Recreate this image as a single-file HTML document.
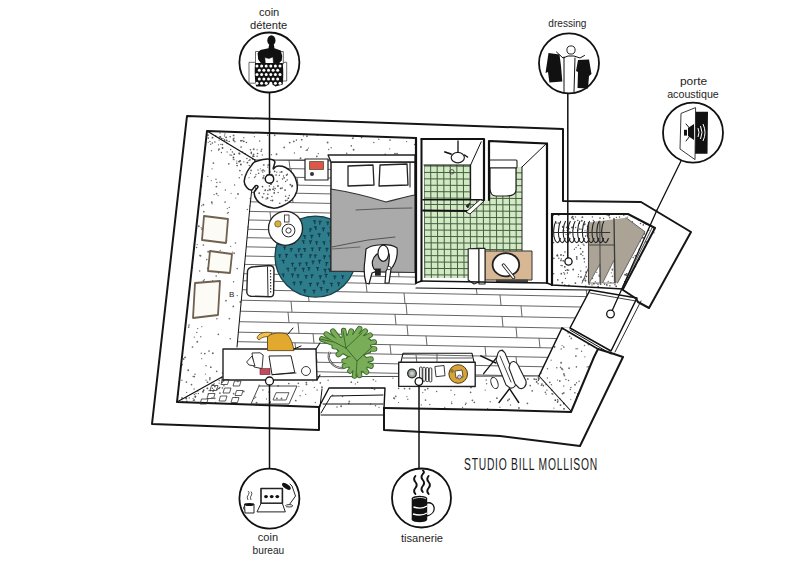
<!DOCTYPE html>
<html><head><meta charset="utf-8"><style>html,body{margin:0;padding:0;background:#fff;width:800px;height:565px;overflow:hidden}svg{display:block}</style></head>
<body><svg width="800" height="565" viewBox="0 0 800 565"><clipPath id="pk"><polygon points="255,160 416,160 416,288 590,290 570,328 562,328 539,376 222,377 237,347 250,206"/></clipPath><g clip-path="url(#pk)" stroke="#555" stroke-width="0.9" fill="none"><line x1="230" y1="159.0" x2="600" y2="166.4"/><line x1="289" y1="160.2" x2="290" y2="168.6"/><line x1="419" y1="162.8" x2="420" y2="171.2"/><line x1="549" y1="165.4" x2="550" y2="173.8"/><line x1="230" y1="167.4" x2="600" y2="174.8"/><line x1="291" y1="168.6" x2="292" y2="177.2"/><line x1="414" y1="171.1" x2="415" y2="179.7"/><line x1="537" y1="173.5" x2="538" y2="182.1"/><line x1="230" y1="176.0" x2="600" y2="183.4"/><line x1="297" y1="177.3" x2="298" y2="185.1"/><line x1="404" y1="179.5" x2="405" y2="187.3"/><line x1="511" y1="181.6" x2="512" y2="189.4"/><line x1="230" y1="183.8" x2="600" y2="191.2"/><line x1="255" y1="184.3" x2="256" y2="192.4"/><line x1="382" y1="186.8" x2="383" y2="194.9"/><line x1="509" y1="189.4" x2="510" y2="197.5"/><line x1="230" y1="191.9" x2="600" y2="199.3"/><line x1="292" y1="193.1" x2="293" y2="202.6"/><line x1="398" y1="195.2" x2="399" y2="204.7"/><line x1="504" y1="197.4" x2="505" y2="206.9"/><line x1="230" y1="201.4" x2="600" y2="208.8"/><line x1="244" y1="201.7" x2="245" y2="211.3"/><line x1="367" y1="204.1" x2="368" y2="213.7"/><line x1="490" y1="206.6" x2="491" y2="216.2"/><line x1="230" y1="211.0" x2="600" y2="218.4"/><line x1="270" y1="211.8" x2="271" y2="220.4"/><line x1="374" y1="213.9" x2="375" y2="222.5"/><line x1="478" y1="215.9" x2="479" y2="224.5"/><line x1="582" y1="218.0" x2="583" y2="226.6"/><line x1="230" y1="219.6" x2="600" y2="227.0"/><line x1="243" y1="219.8" x2="244" y2="229.1"/><line x1="372" y1="222.4" x2="373" y2="231.7"/><line x1="501" y1="225.0" x2="502" y2="234.3"/><line x1="230" y1="228.9" x2="600" y2="236.3"/><line x1="320" y1="230.7" x2="321" y2="239.1"/><line x1="417" y1="232.6" x2="418" y2="241.0"/><line x1="514" y1="234.6" x2="515" y2="243.0"/><line x1="230" y1="237.3" x2="600" y2="244.7"/><line x1="308" y1="238.8" x2="309" y2="248.0"/><line x1="428" y1="241.2" x2="429" y2="250.4"/><line x1="548" y1="243.6" x2="549" y2="252.8"/><line x1="230" y1="246.5" x2="600" y2="253.9"/><line x1="289" y1="247.7" x2="290" y2="256.9"/><line x1="394" y1="249.8" x2="395" y2="259.0"/><line x1="499" y1="251.9" x2="500" y2="261.1"/><line x1="230" y1="255.7" x2="600" y2="263.1"/><line x1="311" y1="257.3" x2="312" y2="265.7"/><line x1="406" y1="259.2" x2="407" y2="267.6"/><line x1="501" y1="261.1" x2="502" y2="269.5"/><line x1="596" y1="263.0" x2="597" y2="271.4"/><line x1="230" y1="264.1" x2="600" y2="271.5"/><line x1="299" y1="265.5" x2="300" y2="274.8"/><line x1="398" y1="267.4" x2="399" y2="276.7"/><line x1="497" y1="269.4" x2="498" y2="278.7"/><line x1="596" y1="271.4" x2="597" y2="280.7"/><line x1="230" y1="273.4" x2="600" y2="280.8"/><line x1="239" y1="273.6" x2="240" y2="280.7"/><line x1="336" y1="275.5" x2="337" y2="282.6"/><line x1="433" y1="277.4" x2="434" y2="284.5"/><line x1="530" y1="279.4" x2="531" y2="286.5"/><line x1="230" y1="280.5" x2="600" y2="287.9"/><line x1="256" y1="281.0" x2="257" y2="290.0"/><line x1="366" y1="283.2" x2="367" y2="292.2"/><line x1="476" y1="285.4" x2="477" y2="294.4"/><line x1="586" y1="287.6" x2="587" y2="296.6"/><line x1="230" y1="289.5" x2="600" y2="296.9"/><line x1="308" y1="291.0" x2="309" y2="301.5"/><line x1="404" y1="293.0" x2="405" y2="303.5"/><line x1="500" y1="294.9" x2="501" y2="305.4"/><line x1="596" y1="296.8" x2="597" y2="307.3"/><line x1="230" y1="300.0" x2="600" y2="307.4"/><line x1="291" y1="301.2" x2="292" y2="312.2"/><line x1="406" y1="303.5" x2="407" y2="314.5"/><line x1="521" y1="305.8" x2="522" y2="316.8"/><line x1="230" y1="311.0" x2="600" y2="318.4"/><line x1="288" y1="312.1" x2="289" y2="322.6"/><line x1="395" y1="314.3" x2="396" y2="324.8"/><line x1="502" y1="316.4" x2="503" y2="326.9"/><line x1="230" y1="321.5" x2="600" y2="328.9"/><line x1="298" y1="322.8" x2="299" y2="333.3"/><line x1="407" y1="325.0" x2="408" y2="335.5"/><line x1="516" y1="327.2" x2="517" y2="337.7"/><line x1="230" y1="332.0" x2="600" y2="339.4"/><line x1="313" y1="333.6" x2="314" y2="343.1"/><line x1="426" y1="335.9" x2="427" y2="345.4"/><line x1="539" y1="338.2" x2="540" y2="347.7"/><line x1="230" y1="341.5" x2="600" y2="348.9"/><line x1="295" y1="342.8" x2="296" y2="352.3"/><line x1="390" y1="344.7" x2="391" y2="354.2"/><line x1="485" y1="346.6" x2="486" y2="356.1"/><line x1="580" y1="348.5" x2="581" y2="358.0"/><line x1="230" y1="351.0" x2="600" y2="358.4"/><line x1="316" y1="352.7" x2="317" y2="362.2"/><line x1="416" y1="354.7" x2="417" y2="364.2"/><line x1="516" y1="356.7" x2="517" y2="366.2"/><line x1="230" y1="360.5" x2="600" y2="367.9"/><line x1="290" y1="361.7" x2="291" y2="371.2"/><line x1="402" y1="363.9" x2="403" y2="373.4"/><line x1="514" y1="366.2" x2="515" y2="375.7"/><line x1="230" y1="370.0" x2="600" y2="377.4"/><line x1="284" y1="371.1" x2="285" y2="381.1"/><line x1="414" y1="373.7" x2="415" y2="383.7"/><line x1="544" y1="376.3" x2="545" y2="386.3"/></g><g fill="#6a6a6a"><circle cx="274.7" cy="135.4" r="0.83"/><circle cx="253.7" cy="149.2" r="0.93"/><circle cx="327.6" cy="142.5" r="0.94"/><circle cx="267.5" cy="135.2" r="0.64"/><circle cx="271.5" cy="154.7" r="0.66"/><circle cx="328.6" cy="149.5" r="0.73"/><circle cx="219.5" cy="137.0" r="0.84"/><circle cx="296.4" cy="140.1" r="0.80"/><circle cx="301.7" cy="139.7" r="0.88"/><circle cx="353.1" cy="138.1" r="0.80"/><circle cx="316.8" cy="156.4" r="0.86"/><circle cx="267.2" cy="159.4" r="0.64"/><circle cx="294.4" cy="153.0" r="0.65"/><circle cx="346.7" cy="153.2" r="0.80"/><circle cx="390.0" cy="140.1" r="0.84"/><circle cx="331.2" cy="147.8" r="0.76"/><circle cx="306.1" cy="150.3" r="0.62"/><circle cx="353.6" cy="149.8" r="0.95"/><circle cx="378.8" cy="139.3" r="0.74"/><circle cx="303.5" cy="135.9" r="0.64"/><circle cx="234.0" cy="138.2" r="0.74"/><circle cx="300.9" cy="146.9" r="0.91"/><circle cx="378.2" cy="156.1" r="0.70"/><circle cx="293.8" cy="141.4" r="0.91"/><circle cx="243.8" cy="137.7" r="0.68"/><circle cx="308.4" cy="148.1" r="0.69"/><circle cx="284.2" cy="147.4" r="0.93"/><circle cx="351.3" cy="145.9" r="0.82"/><circle cx="395.0" cy="153.6" r="0.91"/><circle cx="373.8" cy="142.4" r="0.74"/><circle cx="220.0" cy="133.0" r="0.67"/><circle cx="240.9" cy="140.9" r="0.62"/><circle cx="228.2" cy="141.5" r="0.61"/><circle cx="389.7" cy="148.8" r="0.65"/><circle cx="259.7" cy="141.1" r="0.73"/><circle cx="414.6" cy="144.5" r="0.77"/><circle cx="224.9" cy="134.0" r="0.72"/><circle cx="262.3" cy="155.0" r="0.66"/><circle cx="317.4" cy="135.3" r="0.79"/><circle cx="352.5" cy="138.6" r="0.73"/><circle cx="318.3" cy="153.6" r="0.72"/><circle cx="253.6" cy="154.5" r="0.94"/><circle cx="385.2" cy="154.4" r="0.89"/><circle cx="361.6" cy="137.6" r="0.78"/><circle cx="261.2" cy="151.1" r="0.93"/><circle cx="300.5" cy="158.2" r="0.95"/><circle cx="406.6" cy="141.6" r="0.68"/><circle cx="254.4" cy="136.7" r="0.67"/><circle cx="337.4" cy="157.1" r="0.89"/><circle cx="307.2" cy="149.9" r="0.88"/><circle cx="397.1" cy="153.7" r="0.86"/><circle cx="306.9" cy="136.2" r="0.88"/><circle cx="276.5" cy="154.2" r="0.94"/><circle cx="289.7" cy="142.6" r="0.93"/><circle cx="233.6" cy="135.4" r="0.92"/></g><g fill="#6a6a6a"><circle cx="239.9" cy="170.6" r="0.89"/><circle cx="204.3" cy="279.7" r="0.65"/><circle cx="178.1" cy="394.1" r="0.83"/><circle cx="210.8" cy="367.2" r="0.89"/><circle cx="199.9" cy="196.2" r="0.81"/><circle cx="197.2" cy="244.6" r="0.65"/><circle cx="248.0" cy="226.9" r="0.76"/><circle cx="209.8" cy="379.7" r="0.78"/><circle cx="218.5" cy="272.9" r="0.61"/><circle cx="211.3" cy="180.6" r="0.60"/><circle cx="239.3" cy="177.7" r="0.77"/><circle cx="233.6" cy="281.8" r="0.71"/><circle cx="217.4" cy="281.5" r="0.87"/><circle cx="237.2" cy="268.6" r="0.80"/><circle cx="211.6" cy="297.0" r="0.78"/><circle cx="216.9" cy="318.7" r="0.76"/><circle cx="218.6" cy="260.5" r="0.93"/><circle cx="250.5" cy="201.3" r="0.80"/><circle cx="211.5" cy="150.7" r="0.68"/><circle cx="189.0" cy="325.1" r="0.83"/><circle cx="188.2" cy="370.2" r="0.94"/><circle cx="194.1" cy="389.1" r="0.74"/><circle cx="241.9" cy="174.8" r="0.75"/><circle cx="217.2" cy="222.9" r="0.67"/><circle cx="201.8" cy="326.7" r="0.61"/><circle cx="220.2" cy="250.4" r="0.61"/><circle cx="202.9" cy="300.1" r="0.78"/><circle cx="182.0" cy="398.0" r="0.88"/><circle cx="252.8" cy="159.4" r="0.69"/><circle cx="209.9" cy="378.0" r="0.89"/><circle cx="231.6" cy="155.2" r="0.62"/><circle cx="230.7" cy="246.3" r="0.63"/><circle cx="239.5" cy="153.7" r="0.90"/><circle cx="182.2" cy="364.8" r="0.76"/><circle cx="203.5" cy="280.9" r="0.92"/><circle cx="218.1" cy="195.6" r="0.64"/><circle cx="200.8" cy="336.8" r="0.70"/><circle cx="216.0" cy="179.2" r="0.72"/><circle cx="220.0" cy="182.3" r="0.77"/><circle cx="249.9" cy="159.8" r="0.89"/><circle cx="210.7" cy="265.1" r="0.89"/><circle cx="207.7" cy="268.3" r="0.84"/><circle cx="226.6" cy="240.7" r="0.72"/><circle cx="183.6" cy="359.0" r="0.90"/><circle cx="229.3" cy="207.4" r="0.68"/><circle cx="199.9" cy="255.5" r="0.66"/><circle cx="211.8" cy="202.3" r="0.94"/><circle cx="201.1" cy="227.6" r="0.60"/><circle cx="206.8" cy="259.6" r="0.78"/><circle cx="192.7" cy="267.8" r="0.60"/><circle cx="208.2" cy="142.3" r="0.61"/><circle cx="200.7" cy="194.1" r="0.80"/><circle cx="218.3" cy="334.4" r="0.83"/><circle cx="207.4" cy="219.4" r="0.94"/><circle cx="188.7" cy="327.2" r="0.83"/><circle cx="234.2" cy="351.1" r="0.65"/><circle cx="217.9" cy="267.7" r="0.89"/><circle cx="222.6" cy="373.0" r="0.84"/><circle cx="231.1" cy="193.3" r="0.61"/><circle cx="185.2" cy="357.5" r="0.80"/><circle cx="226.0" cy="300.7" r="0.84"/><circle cx="216.2" cy="276.0" r="0.83"/><circle cx="197.7" cy="328.6" r="0.67"/><circle cx="215.5" cy="234.7" r="0.77"/><circle cx="230.3" cy="338.8" r="0.82"/><circle cx="227.1" cy="152.0" r="0.65"/><circle cx="196.8" cy="332.4" r="0.71"/><circle cx="229.4" cy="318.6" r="0.84"/><circle cx="199.7" cy="271.0" r="0.76"/><circle cx="213.4" cy="163.1" r="0.91"/><circle cx="212.8" cy="353.2" r="0.94"/><circle cx="212.1" cy="203.8" r="0.67"/><circle cx="250.8" cy="188.1" r="0.80"/><circle cx="251.3" cy="166.9" r="0.89"/><circle cx="216.7" cy="371.3" r="0.85"/><circle cx="195.0" cy="374.3" r="0.77"/><circle cx="215.4" cy="253.2" r="0.71"/><circle cx="201.7" cy="358.7" r="0.60"/><circle cx="186.4" cy="382.1" r="0.85"/><circle cx="247.3" cy="209.5" r="0.73"/><circle cx="223.0" cy="228.8" r="0.75"/><circle cx="184.9" cy="357.2" r="0.70"/><circle cx="250.0" cy="198.6" r="0.69"/><circle cx="216.9" cy="182.4" r="0.73"/><circle cx="240.3" cy="302.0" r="0.92"/><circle cx="234.1" cy="253.2" r="0.86"/><circle cx="227.3" cy="208.6" r="0.62"/><circle cx="249.3" cy="165.5" r="0.77"/><circle cx="203.8" cy="211.7" r="0.86"/><circle cx="228.2" cy="212.5" r="0.80"/><circle cx="207.8" cy="176.3" r="0.66"/><circle cx="193.2" cy="376.5" r="0.77"/><circle cx="194.2" cy="376.6" r="0.95"/><circle cx="212.1" cy="168.8" r="0.67"/><circle cx="197.2" cy="285.4" r="0.91"/><circle cx="235.5" cy="242.9" r="0.74"/><circle cx="217.9" cy="233.1" r="0.72"/><circle cx="252.5" cy="165.1" r="0.78"/><circle cx="226.1" cy="364.8" r="0.68"/><circle cx="208.2" cy="251.8" r="0.93"/><circle cx="213.9" cy="290.1" r="0.60"/><circle cx="207.5" cy="382.2" r="0.89"/><circle cx="233.3" cy="306.4" r="0.87"/><circle cx="212.7" cy="280.5" r="0.61"/><circle cx="238.0" cy="194.0" r="0.92"/><circle cx="227.3" cy="213.3" r="0.64"/><circle cx="196.6" cy="303.4" r="0.84"/><circle cx="217.9" cy="289.0" r="0.74"/><circle cx="194.4" cy="293.9" r="0.60"/><circle cx="200.5" cy="255.8" r="0.94"/><circle cx="214.1" cy="194.6" r="0.69"/><circle cx="215.9" cy="313.8" r="0.75"/><circle cx="197.1" cy="311.9" r="0.92"/><circle cx="203.4" cy="245.0" r="0.84"/><circle cx="192.5" cy="347.0" r="0.86"/><circle cx="216.4" cy="186.6" r="0.94"/><circle cx="201.3" cy="353.2" r="0.68"/><circle cx="194.3" cy="337.1" r="0.70"/><circle cx="209.5" cy="311.3" r="0.93"/><circle cx="191.5" cy="384.6" r="0.86"/><circle cx="206.5" cy="232.3" r="0.72"/><circle cx="198.8" cy="226.2" r="0.93"/><circle cx="186.6" cy="392.3" r="0.67"/><circle cx="204.8" cy="353.6" r="0.89"/><circle cx="210.7" cy="144.3" r="0.77"/><circle cx="206.1" cy="380.2" r="0.67"/><circle cx="205.4" cy="374.1" r="0.61"/><circle cx="209.0" cy="351.0" r="0.87"/><circle cx="181.9" cy="380.3" r="0.69"/><circle cx="203.4" cy="204.8" r="0.94"/><circle cx="225.1" cy="202.0" r="0.85"/><circle cx="201.7" cy="205.7" r="0.60"/><circle cx="196.6" cy="247.5" r="0.77"/><circle cx="249.4" cy="180.6" r="0.88"/><circle cx="237.3" cy="295.6" r="0.71"/><circle cx="201.9" cy="229.1" r="0.87"/><circle cx="235.7" cy="198.0" r="0.62"/><circle cx="232.4" cy="252.1" r="0.68"/><circle cx="209.5" cy="299.1" r="0.84"/><circle cx="228.8" cy="163.8" r="0.89"/><circle cx="199.9" cy="284.6" r="0.73"/><circle cx="234.6" cy="185.0" r="0.69"/><circle cx="202.5" cy="238.3" r="0.95"/><circle cx="216.6" cy="193.7" r="0.88"/><circle cx="206.0" cy="365.7" r="0.76"/><circle cx="197.3" cy="341.8" r="0.93"/><circle cx="225.4" cy="190.0" r="0.73"/><circle cx="196.9" cy="293.4" r="0.83"/><circle cx="202.5" cy="314.8" r="0.66"/><circle cx="201.4" cy="186.1" r="0.88"/></g><g fill="#6a6a6a"><circle cx="392.9" cy="378.2" r="0.64"/><circle cx="332.7" cy="395.3" r="0.82"/><circle cx="451.0" cy="390.3" r="0.70"/><circle cx="300.1" cy="395.8" r="0.73"/><circle cx="341.1" cy="406.2" r="0.95"/><circle cx="320.3" cy="382.9" r="0.85"/><circle cx="532.2" cy="390.8" r="0.89"/><circle cx="337.0" cy="406.9" r="0.76"/><circle cx="394.3" cy="398.4" r="0.92"/><circle cx="212.1" cy="397.8" r="0.73"/><circle cx="375.8" cy="381.1" r="0.70"/><circle cx="219.9" cy="393.2" r="0.88"/><circle cx="421.4" cy="404.9" r="0.66"/><circle cx="486.6" cy="383.8" r="0.74"/><circle cx="510.5" cy="405.0" r="0.66"/><circle cx="262.9" cy="390.0" r="0.78"/><circle cx="328.1" cy="380.3" r="0.69"/><circle cx="462.6" cy="407.4" r="0.61"/><circle cx="398.6" cy="402.5" r="0.61"/><circle cx="507.3" cy="380.1" r="0.81"/><circle cx="393.7" cy="397.9" r="0.71"/><circle cx="342.5" cy="396.4" r="0.75"/><circle cx="436.6" cy="391.6" r="0.75"/><circle cx="186.2" cy="397.7" r="0.77"/><circle cx="269.7" cy="402.7" r="0.87"/><circle cx="357.6" cy="382.3" r="0.77"/><circle cx="219.2" cy="380.5" r="0.75"/><circle cx="213.1" cy="391.5" r="0.78"/><circle cx="193.1" cy="398.3" r="0.63"/><circle cx="466.0" cy="403.2" r="0.78"/><circle cx="198.4" cy="393.6" r="0.73"/><circle cx="465.4" cy="404.5" r="0.67"/><circle cx="553.9" cy="408.1" r="0.66"/><circle cx="487.6" cy="408.6" r="0.62"/><circle cx="315.3" cy="402.5" r="0.66"/><circle cx="530.2" cy="385.6" r="0.89"/><circle cx="233.6" cy="393.6" r="0.92"/><circle cx="259.1" cy="385.2" r="0.78"/><circle cx="302.7" cy="377.3" r="0.66"/><circle cx="444.8" cy="407.3" r="0.66"/><circle cx="486.2" cy="380.0" r="0.79"/><circle cx="427.7" cy="388.6" r="0.91"/><circle cx="395.7" cy="396.3" r="0.91"/><circle cx="425.1" cy="389.8" r="0.88"/><circle cx="404.5" cy="388.6" r="0.87"/><circle cx="351.3" cy="382.2" r="0.86"/><circle cx="276.9" cy="398.4" r="0.94"/><circle cx="407.8" cy="399.2" r="0.71"/><circle cx="235.8" cy="397.6" r="0.75"/><circle cx="379.0" cy="407.3" r="0.65"/><circle cx="266.5" cy="398.9" r="0.61"/><circle cx="218.9" cy="388.5" r="0.68"/><circle cx="406.9" cy="396.6" r="0.67"/><circle cx="422.8" cy="392.6" r="0.65"/><circle cx="546.0" cy="384.5" r="0.65"/><circle cx="214.7" cy="398.3" r="0.90"/><circle cx="485.2" cy="390.1" r="0.69"/><circle cx="398.6" cy="388.3" r="0.83"/><circle cx="466.0" cy="384.7" r="0.92"/><circle cx="194.3" cy="394.6" r="0.74"/><circle cx="270.6" cy="378.0" r="0.87"/><circle cx="255.6" cy="397.3" r="0.78"/><circle cx="429.8" cy="404.5" r="0.66"/><circle cx="298.9" cy="386.5" r="0.62"/><circle cx="527.4" cy="403.4" r="0.85"/><circle cx="470.6" cy="392.3" r="0.86"/><circle cx="355.3" cy="383.9" r="0.64"/><circle cx="268.5" cy="377.4" r="0.72"/><circle cx="472.4" cy="400.3" r="0.90"/><circle cx="457.4" cy="385.3" r="0.79"/><circle cx="348.8" cy="403.6" r="0.78"/><circle cx="281.5" cy="398.5" r="0.94"/><circle cx="270.0" cy="402.0" r="0.93"/><circle cx="471.0" cy="387.4" r="0.91"/><circle cx="306.5" cy="384.4" r="0.92"/><circle cx="425.5" cy="400.2" r="0.83"/><circle cx="507.8" cy="400.4" r="0.90"/><circle cx="349.3" cy="401.4" r="0.80"/><circle cx="298.3" cy="383.4" r="0.82"/><circle cx="312.9" cy="381.0" r="0.61"/><circle cx="193.4" cy="400.2" r="0.82"/><circle cx="451.6" cy="401.8" r="0.62"/><circle cx="409.6" cy="388.7" r="0.89"/><circle cx="499.9" cy="407.2" r="0.62"/><circle cx="518.9" cy="408.0" r="0.93"/><circle cx="219.2" cy="383.2" r="0.64"/><circle cx="496.9" cy="398.2" r="0.89"/><circle cx="425.8" cy="386.1" r="0.63"/><circle cx="215.6" cy="402.5" r="0.67"/><circle cx="302.7" cy="390.8" r="0.61"/><circle cx="278.1" cy="385.9" r="0.85"/><circle cx="322.0" cy="387.2" r="0.94"/><circle cx="375.5" cy="405.8" r="0.82"/><circle cx="349.0" cy="403.1" r="0.72"/><circle cx="454.6" cy="394.8" r="0.68"/><circle cx="516.7" cy="379.2" r="0.89"/><circle cx="256.6" cy="402.7" r="0.94"/><circle cx="370.6" cy="403.9" r="0.66"/><circle cx="371.9" cy="388.2" r="0.89"/><circle cx="288.8" cy="383.5" r="0.84"/><circle cx="373.3" cy="379.8" r="0.82"/><circle cx="451.7" cy="403.5" r="0.82"/><circle cx="317.1" cy="390.0" r="0.74"/><circle cx="527.8" cy="379.0" r="0.91"/><circle cx="374.5" cy="389.3" r="0.91"/><circle cx="269.0" cy="392.1" r="0.79"/><circle cx="474.3" cy="402.4" r="0.83"/><circle cx="314.3" cy="387.4" r="0.65"/><circle cx="509.2" cy="399.2" r="0.86"/><circle cx="243.8" cy="391.4" r="0.87"/><circle cx="405.2" cy="380.4" r="0.76"/><circle cx="525.7" cy="384.3" r="0.67"/><circle cx="295.8" cy="400.6" r="0.90"/><circle cx="237.9" cy="381.5" r="0.69"/><circle cx="305.7" cy="394.3" r="0.66"/><circle cx="306.3" cy="382.6" r="0.94"/><circle cx="464.1" cy="379.6" r="0.94"/><circle cx="217.0" cy="389.4" r="0.94"/><circle cx="490.2" cy="401.7" r="0.75"/><circle cx="254.3" cy="398.3" r="0.64"/></g><g fill="#6a6a6a"><circle cx="551.2" cy="360.2" r="0.61"/><circle cx="562.5" cy="393.7" r="0.84"/><circle cx="568.5" cy="380.5" r="0.76"/><circle cx="547.4" cy="378.1" r="0.74"/><circle cx="564.4" cy="375.6" r="0.86"/><circle cx="563.8" cy="347.0" r="0.85"/><circle cx="579.1" cy="381.2" r="0.76"/><circle cx="557.5" cy="380.1" r="0.63"/><circle cx="563.8" cy="392.9" r="0.85"/><circle cx="576.1" cy="348.8" r="0.75"/><circle cx="565.9" cy="379.6" r="0.74"/><circle cx="549.8" cy="382.3" r="0.87"/><circle cx="561.9" cy="368.7" r="0.94"/><circle cx="541.3" cy="373.1" r="0.66"/><circle cx="569.6" cy="336.4" r="0.80"/><circle cx="570.9" cy="387.5" r="0.78"/><circle cx="576.7" cy="396.8" r="0.78"/><circle cx="551.4" cy="384.8" r="0.74"/><circle cx="562.6" cy="329.1" r="0.75"/><circle cx="563.8" cy="386.0" r="0.72"/><circle cx="554.6" cy="346.6" r="0.86"/><circle cx="562.1" cy="345.6" r="0.65"/><circle cx="576.4" cy="366.9" r="0.80"/><circle cx="559.8" cy="381.0" r="0.89"/><circle cx="587.2" cy="366.9" r="0.70"/><circle cx="571.3" cy="338.4" r="0.89"/><circle cx="559.9" cy="398.6" r="0.69"/><circle cx="561.2" cy="349.0" r="0.75"/><circle cx="581.6" cy="351.3" r="0.69"/><circle cx="556.8" cy="367.8" r="0.75"/><circle cx="576.6" cy="382.7" r="0.73"/><circle cx="577.7" cy="348.8" r="0.64"/><circle cx="584.8" cy="356.8" r="0.65"/><circle cx="574.9" cy="392.8" r="0.83"/><circle cx="588.5" cy="344.4" r="0.84"/><circle cx="570.3" cy="389.6" r="0.75"/><circle cx="554.6" cy="347.4" r="0.65"/><circle cx="568.1" cy="332.9" r="0.76"/><circle cx="547.5" cy="368.8" r="0.77"/><circle cx="570.8" cy="399.6" r="0.60"/><circle cx="588.6" cy="366.8" r="0.80"/><circle cx="561.1" cy="362.8" r="0.94"/><circle cx="575.0" cy="384.7" r="0.93"/><circle cx="569.1" cy="368.2" r="0.91"/><circle cx="575.9" cy="356.1" r="0.90"/><circle cx="560.6" cy="367.4" r="0.78"/><circle cx="584.5" cy="345.5" r="0.75"/><circle cx="563.9" cy="374.0" r="0.89"/><circle cx="562.8" cy="369.8" r="0.70"/><circle cx="577.6" cy="393.7" r="0.72"/></g><g fill="#555"><circle cx="585.6" cy="236.1" r="0.81"/><circle cx="619.3" cy="272.0" r="0.61"/><circle cx="609.8" cy="217.7" r="0.71"/><circle cx="552.7" cy="228.1" r="0.92"/><circle cx="616.5" cy="262.7" r="0.88"/><circle cx="617.4" cy="260.4" r="0.84"/><circle cx="615.2" cy="264.4" r="0.67"/><circle cx="622.7" cy="247.9" r="0.87"/><circle cx="562.7" cy="227.4" r="0.61"/><circle cx="621.5" cy="241.3" r="0.89"/><circle cx="635.4" cy="255.6" r="0.69"/><circle cx="584.0" cy="245.2" r="0.71"/><circle cx="597.7" cy="261.5" r="0.93"/><circle cx="557.8" cy="256.0" r="0.61"/><circle cx="564.6" cy="274.0" r="0.80"/><circle cx="553.5" cy="242.6" r="0.81"/><circle cx="602.4" cy="244.5" r="0.64"/><circle cx="620.3" cy="229.7" r="0.65"/><circle cx="553.6" cy="214.4" r="0.84"/><circle cx="564.9" cy="285.5" r="0.63"/><circle cx="644.2" cy="223.5" r="0.61"/><circle cx="628.3" cy="231.9" r="0.86"/><circle cx="571.9" cy="217.7" r="0.87"/><circle cx="627.6" cy="277.3" r="0.86"/><circle cx="560.9" cy="260.5" r="0.85"/><circle cx="600.8" cy="283.0" r="0.69"/><circle cx="553.2" cy="215.1" r="0.83"/><circle cx="638.6" cy="219.9" r="0.71"/><circle cx="629.3" cy="226.3" r="0.90"/><circle cx="603.6" cy="218.4" r="0.73"/><circle cx="612.9" cy="246.5" r="0.84"/><circle cx="567.4" cy="273.0" r="0.73"/><circle cx="620.4" cy="260.6" r="0.75"/><circle cx="592.9" cy="272.2" r="0.93"/><circle cx="635.2" cy="255.9" r="0.70"/><circle cx="626.5" cy="275.2" r="0.72"/><circle cx="616.2" cy="286.3" r="0.89"/><circle cx="615.7" cy="236.8" r="0.75"/><circle cx="646.1" cy="241.9" r="0.84"/><circle cx="615.8" cy="280.3" r="0.88"/><circle cx="582.0" cy="214.1" r="0.69"/><circle cx="596.8" cy="257.4" r="0.89"/><circle cx="581.0" cy="277.0" r="0.88"/><circle cx="624.6" cy="281.6" r="0.72"/><circle cx="561.0" cy="255.0" r="0.88"/><circle cx="573.2" cy="269.5" r="0.93"/><circle cx="576.8" cy="258.9" r="0.84"/><circle cx="601.3" cy="229.3" r="0.69"/><circle cx="631.6" cy="272.6" r="0.76"/><circle cx="561.3" cy="273.7" r="0.87"/><circle cx="576.7" cy="256.9" r="0.91"/><circle cx="602.5" cy="257.6" r="0.67"/><circle cx="572.4" cy="227.4" r="0.85"/><circle cx="590.5" cy="255.8" r="0.74"/><circle cx="606.8" cy="225.0" r="0.62"/><circle cx="563.2" cy="260.8" r="0.88"/><circle cx="568.6" cy="258.2" r="0.72"/><circle cx="607.1" cy="215.5" r="0.61"/><circle cx="603.5" cy="256.0" r="0.69"/><circle cx="634.6" cy="245.5" r="0.93"/><circle cx="654.1" cy="232.8" r="0.61"/><circle cx="573.3" cy="227.4" r="0.63"/><circle cx="557.4" cy="255.2" r="0.90"/><circle cx="600.6" cy="284.1" r="0.92"/><circle cx="558.8" cy="258.3" r="0.74"/><circle cx="564.7" cy="285.0" r="0.69"/><circle cx="611.8" cy="261.4" r="0.93"/><circle cx="623.0" cy="243.1" r="0.76"/><circle cx="568.9" cy="285.5" r="0.95"/><circle cx="575.5" cy="216.9" r="0.69"/><circle cx="589.3" cy="280.8" r="0.92"/><circle cx="635.4" cy="266.5" r="0.83"/><circle cx="567.3" cy="269.9" r="0.93"/><circle cx="623.8" cy="236.1" r="0.81"/><circle cx="632.3" cy="221.8" r="0.71"/><circle cx="579.2" cy="223.2" r="0.77"/><circle cx="569.9" cy="231.6" r="0.65"/><circle cx="623.8" cy="214.9" r="0.85"/><circle cx="572.7" cy="216.7" r="0.92"/><circle cx="575.4" cy="283.1" r="0.90"/><circle cx="646.2" cy="224.3" r="0.76"/><circle cx="562.3" cy="282.7" r="0.89"/><circle cx="618.6" cy="247.5" r="0.72"/><circle cx="639.2" cy="249.3" r="0.82"/><circle cx="567.1" cy="230.4" r="0.62"/><circle cx="627.7" cy="254.9" r="0.65"/><circle cx="644.3" cy="233.7" r="0.74"/><circle cx="568.5" cy="234.1" r="0.89"/><circle cx="587.5" cy="226.4" r="0.77"/><circle cx="585.7" cy="280.8" r="0.64"/><circle cx="574.4" cy="249.3" r="0.70"/><circle cx="579.3" cy="228.9" r="0.73"/><circle cx="582.7" cy="280.3" r="0.62"/><circle cx="629.0" cy="235.7" r="0.94"/><circle cx="553.7" cy="273.7" r="0.72"/><circle cx="566.9" cy="214.1" r="0.89"/><circle cx="607.8" cy="227.8" r="0.75"/><circle cx="648.7" cy="230.2" r="0.80"/><circle cx="566.6" cy="227.3" r="0.87"/><circle cx="627.4" cy="228.6" r="0.63"/><circle cx="561.3" cy="259.0" r="0.77"/><circle cx="581.0" cy="229.2" r="0.81"/><circle cx="627.0" cy="274.1" r="0.80"/><circle cx="573.4" cy="218.9" r="0.86"/><circle cx="595.3" cy="267.4" r="0.62"/><circle cx="637.9" cy="238.8" r="0.89"/><circle cx="643.6" cy="250.5" r="0.61"/><circle cx="644.4" cy="233.7" r="0.67"/><circle cx="640.2" cy="241.2" r="0.66"/><circle cx="591.3" cy="258.0" r="0.60"/><circle cx="607.1" cy="247.0" r="0.78"/><circle cx="564.8" cy="266.9" r="0.89"/><circle cx="643.7" cy="237.8" r="0.85"/><circle cx="592.4" cy="269.6" r="0.62"/><circle cx="604.4" cy="252.0" r="0.79"/><circle cx="609.0" cy="215.5" r="0.94"/><circle cx="575.7" cy="227.5" r="0.64"/><circle cx="578.5" cy="274.5" r="0.61"/><circle cx="562.2" cy="265.7" r="0.67"/><circle cx="553.9" cy="258.4" r="0.80"/><circle cx="607.4" cy="266.0" r="0.64"/><circle cx="556.8" cy="223.1" r="0.77"/><circle cx="605.1" cy="234.7" r="0.64"/><circle cx="595.0" cy="224.1" r="0.81"/><circle cx="643.3" cy="224.9" r="0.80"/><circle cx="631.1" cy="226.2" r="0.89"/><circle cx="596.6" cy="276.1" r="0.78"/><circle cx="593.9" cy="283.7" r="0.87"/><circle cx="587.9" cy="231.8" r="0.72"/><circle cx="598.2" cy="286.6" r="0.88"/><circle cx="606.8" cy="284.9" r="0.93"/><circle cx="578.4" cy="245.2" r="0.82"/><circle cx="590.6" cy="253.3" r="0.62"/><circle cx="597.9" cy="251.4" r="0.61"/><circle cx="619.1" cy="273.9" r="0.91"/><circle cx="620.0" cy="233.7" r="0.84"/><circle cx="581.0" cy="254.1" r="0.92"/><circle cx="617.9" cy="232.5" r="0.78"/><circle cx="598.0" cy="284.4" r="0.70"/><circle cx="584.4" cy="261.9" r="0.64"/><circle cx="615.0" cy="284.8" r="0.78"/><circle cx="580.5" cy="248.5" r="0.79"/><circle cx="567.7" cy="223.2" r="0.65"/><circle cx="583.1" cy="244.1" r="0.70"/><circle cx="577.8" cy="220.5" r="0.79"/><circle cx="612.4" cy="262.1" r="0.67"/><circle cx="627.3" cy="248.1" r="0.79"/><circle cx="617.0" cy="248.7" r="0.71"/><circle cx="577.7" cy="230.4" r="0.78"/><circle cx="592.6" cy="257.3" r="0.60"/><circle cx="589.4" cy="277.8" r="0.68"/><circle cx="611.0" cy="250.4" r="0.70"/><circle cx="633.8" cy="225.7" r="0.62"/><circle cx="644.4" cy="246.6" r="0.62"/><circle cx="593.1" cy="246.6" r="0.86"/><circle cx="563.6" cy="230.7" r="0.94"/><circle cx="630.3" cy="225.4" r="0.72"/><circle cx="589.4" cy="264.0" r="0.82"/><circle cx="606.9" cy="268.7" r="0.86"/><circle cx="632.5" cy="249.2" r="0.87"/><circle cx="565.5" cy="278.4" r="0.60"/><circle cx="633.2" cy="257.4" r="0.77"/><circle cx="596.3" cy="272.0" r="0.91"/><circle cx="616.4" cy="242.1" r="0.76"/><circle cx="600.5" cy="267.5" r="0.70"/><circle cx="593.4" cy="255.1" r="0.73"/><circle cx="586.1" cy="272.2" r="0.90"/><circle cx="605.0" cy="246.9" r="0.66"/><circle cx="584.2" cy="224.7" r="0.80"/><circle cx="613.6" cy="220.5" r="0.92"/><circle cx="586.3" cy="276.4" r="0.89"/><circle cx="653.6" cy="229.1" r="0.75"/><circle cx="557.0" cy="255.8" r="0.77"/><circle cx="606.8" cy="252.3" r="0.84"/><circle cx="593.3" cy="240.5" r="0.81"/><circle cx="589.2" cy="284.1" r="0.84"/><circle cx="607.7" cy="221.3" r="0.73"/><circle cx="594.5" cy="255.5" r="0.80"/><circle cx="603.6" cy="246.6" r="0.82"/><circle cx="608.2" cy="274.4" r="0.66"/><circle cx="585.7" cy="286.4" r="0.89"/><circle cx="606.3" cy="222.2" r="0.91"/><circle cx="625.1" cy="274.7" r="0.95"/><circle cx="646.1" cy="245.1" r="0.65"/><circle cx="582.7" cy="251.9" r="0.78"/><circle cx="571.9" cy="227.5" r="0.82"/><circle cx="615.9" cy="240.1" r="0.95"/><circle cx="619.5" cy="217.1" r="0.74"/><circle cx="635.5" cy="236.7" r="0.84"/><circle cx="552.4" cy="236.5" r="0.89"/><circle cx="614.1" cy="263.4" r="0.67"/><circle cx="604.8" cy="254.9" r="0.69"/><circle cx="620.6" cy="253.3" r="0.95"/><circle cx="612.9" cy="244.4" r="0.64"/><circle cx="568.6" cy="270.2" r="0.64"/><circle cx="562.6" cy="226.6" r="0.78"/><circle cx="639.3" cy="259.4" r="0.88"/><circle cx="558.6" cy="214.9" r="0.87"/><circle cx="586.2" cy="266.9" r="0.72"/><circle cx="570.0" cy="233.7" r="0.63"/><circle cx="589.0" cy="247.3" r="0.73"/><circle cx="557.8" cy="279.9" r="0.80"/><circle cx="617.7" cy="232.5" r="0.62"/><circle cx="585.4" cy="280.5" r="0.89"/><circle cx="584.2" cy="258.6" r="0.94"/><circle cx="604.5" cy="284.3" r="0.69"/><circle cx="593.3" cy="267.2" r="0.68"/><circle cx="584.8" cy="278.8" r="0.77"/><circle cx="636.0" cy="232.0" r="0.66"/><circle cx="590.0" cy="227.8" r="0.94"/><circle cx="582.8" cy="255.6" r="0.64"/><circle cx="608.6" cy="242.5" r="0.74"/><circle cx="558.9" cy="223.1" r="0.89"/><circle cx="589.2" cy="232.1" r="0.67"/><circle cx="582.1" cy="231.6" r="0.61"/><circle cx="622.4" cy="239.3" r="0.65"/><circle cx="626.8" cy="220.9" r="0.69"/><circle cx="640.5" cy="223.5" r="0.76"/><circle cx="568.9" cy="240.1" r="0.85"/><circle cx="592.0" cy="284.9" r="0.67"/><circle cx="576.1" cy="247.5" r="0.65"/><circle cx="626.9" cy="233.3" r="0.91"/><circle cx="614.3" cy="241.2" r="0.69"/><circle cx="616.5" cy="229.7" r="0.91"/><circle cx="565.0" cy="252.0" r="0.79"/><circle cx="580.7" cy="271.1" r="0.73"/><circle cx="621.7" cy="256.0" r="0.71"/><circle cx="593.3" cy="220.4" r="0.66"/><circle cx="642.2" cy="237.8" r="0.83"/><circle cx="563.5" cy="255.6" r="0.73"/><circle cx="605.0" cy="236.0" r="0.62"/><circle cx="585.0" cy="230.8" r="0.64"/><circle cx="628.0" cy="234.9" r="0.74"/><circle cx="566.0" cy="234.5" r="0.61"/><circle cx="624.0" cy="263.1" r="0.72"/><circle cx="595.7" cy="262.8" r="0.84"/><circle cx="578.3" cy="276.7" r="0.72"/><circle cx="618.7" cy="227.4" r="0.64"/><circle cx="627.5" cy="217.0" r="0.61"/><circle cx="569.2" cy="228.7" r="0.71"/><circle cx="592.4" cy="216.9" r="0.71"/><circle cx="619.7" cy="227.3" r="0.89"/><circle cx="612.4" cy="267.0" r="0.69"/><circle cx="598.1" cy="264.6" r="0.72"/><circle cx="552.1" cy="275.7" r="0.87"/><circle cx="582.4" cy="217.2" r="0.90"/><circle cx="616.4" cy="217.5" r="0.69"/><circle cx="563.8" cy="272.6" r="0.67"/><circle cx="561.1" cy="265.4" r="0.74"/><circle cx="581.8" cy="220.7" r="0.93"/><circle cx="596.9" cy="282.8" r="0.84"/><circle cx="630.3" cy="275.4" r="0.82"/><circle cx="600.0" cy="218.0" r="0.84"/><circle cx="597.4" cy="251.9" r="0.92"/><circle cx="565.5" cy="270.4" r="0.62"/><circle cx="626.5" cy="273.6" r="0.69"/><circle cx="609.9" cy="285.7" r="0.82"/><circle cx="609.7" cy="232.5" r="0.62"/><circle cx="589.9" cy="244.5" r="0.67"/><circle cx="584.9" cy="224.1" r="0.85"/></g><g fill="#555"><circle cx="218.6" cy="150.1" r="0.76"/><circle cx="233.3" cy="159.1" r="0.66"/><circle cx="239.0" cy="153.2" r="0.76"/><circle cx="243.8" cy="161.8" r="0.64"/><circle cx="220.9" cy="144.3" r="0.67"/><circle cx="209.9" cy="141.4" r="0.67"/><circle cx="212.4" cy="143.0" r="0.76"/><circle cx="237.1" cy="165.6" r="0.83"/><circle cx="219.1" cy="140.1" r="0.65"/><circle cx="246.9" cy="158.5" r="0.71"/><circle cx="222.4" cy="144.6" r="0.79"/><circle cx="234.2" cy="154.2" r="0.89"/><circle cx="240.9" cy="164.5" r="0.93"/><circle cx="230.7" cy="149.5" r="0.66"/><circle cx="221.4" cy="152.5" r="0.63"/><circle cx="247.4" cy="162.6" r="0.88"/><circle cx="227.2" cy="143.5" r="0.75"/><circle cx="239.0" cy="161.6" r="0.92"/><circle cx="214.9" cy="141.9" r="0.76"/><circle cx="222.5" cy="148.0" r="0.94"/><circle cx="236.8" cy="161.0" r="0.62"/><circle cx="239.5" cy="153.5" r="0.70"/><circle cx="230.1" cy="155.0" r="0.70"/><circle cx="208.3" cy="138.0" r="0.84"/><circle cx="232.4" cy="151.9" r="0.74"/><circle cx="212.5" cy="137.7" r="0.91"/><circle cx="219.1" cy="149.1" r="0.79"/><circle cx="233.4" cy="157.4" r="0.86"/><circle cx="234.0" cy="159.7" r="0.65"/><circle cx="218.4" cy="144.8" r="0.61"/><circle cx="236.8" cy="163.3" r="0.80"/><circle cx="239.7" cy="161.5" r="0.64"/><circle cx="208.0" cy="135.1" r="0.88"/><circle cx="240.1" cy="160.9" r="0.93"/><circle cx="248.9" cy="160.6" r="0.61"/></g><g fill="#555"><circle cx="246.4" cy="142.4" r="0.77"/><circle cx="226.1" cy="137.3" r="0.91"/><circle cx="229.5" cy="141.3" r="0.60"/><circle cx="240.6" cy="140.7" r="0.61"/><circle cx="257.6" cy="153.5" r="0.82"/><circle cx="243.8" cy="141.5" r="0.70"/><circle cx="253.1" cy="156.3" r="0.93"/><circle cx="251.3" cy="152.4" r="0.78"/><circle cx="243.8" cy="141.2" r="0.79"/><circle cx="226.6" cy="140.4" r="0.95"/><circle cx="234.9" cy="141.7" r="0.69"/><circle cx="224.5" cy="135.9" r="0.62"/><circle cx="224.5" cy="139.9" r="0.85"/><circle cx="223.0" cy="138.5" r="0.61"/><circle cx="230.2" cy="136.8" r="0.81"/><circle cx="257.1" cy="149.8" r="0.67"/><circle cx="253.9" cy="156.4" r="0.72"/><circle cx="250.5" cy="149.8" r="0.74"/><circle cx="242.6" cy="152.0" r="0.72"/><circle cx="241.1" cy="147.1" r="0.83"/><circle cx="241.9" cy="140.6" r="0.86"/><circle cx="251.3" cy="153.5" r="0.71"/><circle cx="233.3" cy="139.1" r="0.78"/><circle cx="245.0" cy="153.5" r="0.73"/><circle cx="215.7" cy="136.1" r="0.86"/><circle cx="233.7" cy="140.4" r="0.92"/><circle cx="261.8" cy="149.2" r="0.68"/><circle cx="221.6" cy="138.6" r="0.75"/><circle cx="220.4" cy="136.9" r="0.87"/><circle cx="257.1" cy="156.2" r="0.69"/></g><g fill="#555"><circle cx="207.5" cy="388.3" r="0.80"/><circle cx="222.0" cy="382.2" r="0.91"/><circle cx="195.4" cy="396.5" r="0.90"/><circle cx="186.3" cy="398.6" r="0.95"/><circle cx="182.7" cy="401.4" r="0.60"/><circle cx="223.5" cy="380.8" r="0.86"/><circle cx="194.3" cy="400.0" r="0.85"/><circle cx="221.8" cy="380.0" r="0.77"/><circle cx="223.9" cy="385.7" r="0.68"/><circle cx="214.3" cy="383.8" r="0.66"/><circle cx="197.8" cy="390.9" r="0.73"/><circle cx="210.3" cy="390.6" r="0.79"/><circle cx="212.4" cy="385.1" r="0.83"/><circle cx="203.0" cy="391.8" r="0.95"/><circle cx="214.9" cy="386.5" r="0.85"/><circle cx="208.3" cy="393.9" r="0.71"/><circle cx="209.1" cy="390.6" r="0.68"/><circle cx="213.8" cy="390.1" r="0.77"/><circle cx="203.7" cy="390.2" r="0.88"/><circle cx="218.9" cy="388.5" r="0.82"/><circle cx="221.3" cy="378.1" r="0.73"/><circle cx="195.2" cy="397.1" r="0.78"/><circle cx="212.4" cy="388.2" r="0.77"/><circle cx="189.3" cy="397.9" r="0.63"/><circle cx="213.3" cy="384.4" r="0.74"/><circle cx="186.8" cy="401.3" r="0.85"/><circle cx="196.0" cy="393.6" r="0.72"/><circle cx="207.2" cy="388.6" r="0.76"/><circle cx="219.8" cy="387.4" r="0.77"/><circle cx="222.4" cy="388.0" r="0.77"/></g><g fill="#555"><circle cx="557.5" cy="401.9" r="0.74"/><circle cx="539.0" cy="378.7" r="0.89"/><circle cx="534.2" cy="379.1" r="0.86"/><circle cx="557.9" cy="400.9" r="0.77"/><circle cx="541.3" cy="385.2" r="0.71"/><circle cx="552.8" cy="393.9" r="0.75"/><circle cx="538.3" cy="377.8" r="0.79"/><circle cx="545.3" cy="392.2" r="0.77"/><circle cx="551.9" cy="390.3" r="0.80"/><circle cx="543.3" cy="385.6" r="0.88"/><circle cx="557.6" cy="399.6" r="0.70"/><circle cx="538.5" cy="379.5" r="0.63"/><circle cx="542.0" cy="384.1" r="0.80"/><circle cx="536.7" cy="381.9" r="0.93"/><circle cx="536.1" cy="379.3" r="0.91"/><circle cx="552.0" cy="393.7" r="0.73"/><circle cx="538.3" cy="380.4" r="0.68"/><circle cx="546.1" cy="394.1" r="0.70"/><circle cx="555.3" cy="400.2" r="0.89"/><circle cx="546.9" cy="390.2" r="0.63"/><circle cx="538.1" cy="383.7" r="0.72"/><circle cx="557.6" cy="402.1" r="0.65"/><circle cx="564.0" cy="408.8" r="0.92"/><circle cx="560.5" cy="405.1" r="0.88"/><circle cx="563.8" cy="403.5" r="0.90"/></g><line x1="207" y1="131" x2="255" y2="160" stroke="#111" stroke-width="1.2" stroke-linecap="round"/><line x1="177" y1="402" x2="222" y2="377" stroke="#111" stroke-width="1.2" stroke-linecap="round"/><line x1="222" y1="377" x2="539" y2="376" stroke="#333" stroke-width="0.9" stroke-linecap="round"/><line x1="539" y1="376" x2="571" y2="411" stroke="#111" stroke-width="1.1" stroke-linecap="round"/><line x1="539" y1="376" x2="562" y2="328" stroke="#111" stroke-width="1.5" stroke-linecap="round"/><line x1="562" y1="328" x2="598" y2="349" stroke="#111" stroke-width="1.5" stroke-linecap="round"/><line x1="255" y1="160" x2="250" y2="206" stroke="#111" stroke-width="1.0" stroke-linecap="round"/><line x1="250" y1="206" x2="237" y2="347" stroke="#111" stroke-width="1.0" stroke-linecap="round"/><line x1="255" y1="160" x2="416" y2="160" stroke="#333" stroke-width="0.9" stroke-linecap="round"/><polygon points="204,216 228,219 226,243 202,240" fill="#fdfbf5" stroke="#6e6150" stroke-width="1.8" stroke-linejoin="round" /><polygon points="210,251 232,254 230,273 208,271" fill="#fdfbf5" stroke="#6e6150" stroke-width="1.8" stroke-linejoin="round" /><polygon points="195,283 220,281 218,315 193,318" fill="#fdfbf5" stroke="#6e6150" stroke-width="1.8" stroke-linejoin="round" /><text x="229" y="297" style="font-family:&quot;Liberation Sans&quot;,sans-serif;font-size:8px" fill="#222">B</text><circle cx="315.5" cy="256.6" r="40.5" fill="#2e7d8d" stroke="#163f47" stroke-width="1.3"/><g stroke="#163f4a" stroke-width="1.3" stroke-linecap="round" fill="none"><path d="M313.5,220.9 L315.5,220.9 M314.5,220.9 L314.9,223.5"/><path d="M319.1,221.4 L321.1,221.4 M320.1,221.4 L319.7,224.0"/><path d="M326.8,222.1 L328.8,222.1 M327.8,222.1 L327.8,224.7"/><path d="M295.0,228.4 L297.0,228.4 M296.0,228.4 L296.5,231.0"/><path d="M300.8,228.7 L302.8,228.7 M301.8,228.7 L301.7,231.3"/><path d="M309.6,228.9 L311.6,228.9 M310.6,228.9 L310.1,231.5"/><path d="M314.4,227.0 L316.4,227.0 M315.4,227.0 L316.0,229.6"/><path d="M322.5,228.2 L324.5,228.2 M323.5,228.2 L323.3,230.8"/><path d="M329.9,227.5 L331.9,227.5 M330.9,227.5 L330.7,230.1"/><path d="M337.4,228.1 L339.4,228.1 M338.4,228.1 L338.8,230.7"/><path d="M284.3,236.0 L286.3,236.0 M285.3,236.0 L285.8,238.6"/><path d="M290.6,235.2 L292.6,235.2 M291.6,235.2 L291.3,237.8"/><path d="M298.6,234.8 L300.6,234.8 M299.6,234.8 L299.3,237.4"/><path d="M303.5,235.7 L305.5,235.7 M304.5,235.7 L305.1,238.3"/><path d="M310.8,235.5 L312.8,235.5 M311.8,235.5 L311.7,238.1"/><path d="M318.2,234.0 L320.2,234.0 M319.2,234.0 L319.5,236.6"/><path d="M327.5,233.2 L329.5,233.2 M328.5,233.2 L328.7,235.8"/><path d="M332.2,235.3 L334.2,235.3 M333.2,235.3 L333.0,237.9"/><path d="M341.9,236.0 L343.9,236.0 M342.9,236.0 L342.9,238.6"/><path d="M285.3,240.5 L287.3,240.5 M286.3,240.5 L286.2,243.1"/><path d="M294.2,240.4 L296.2,240.4 M295.2,240.4 L294.7,243.0"/><path d="M302.2,240.8 L304.2,240.8 M303.2,240.8 L303.8,243.4"/><path d="M309.5,241.0 L311.5,241.0 M310.5,241.0 L310.4,243.6"/><path d="M315.6,241.8 L317.6,241.8 M316.6,241.8 L316.7,244.4"/><path d="M322.9,241.8 L324.9,241.8 M323.9,241.8 L324.4,244.4"/><path d="M329.9,241.2 L331.9,241.2 M330.9,241.2 L331.2,243.8"/><path d="M336.3,240.8 L338.3,240.8 M337.3,240.8 L337.9,243.4"/><path d="M344.4,241.5 L346.4,241.5 M345.4,241.5 L344.8,244.1"/><path d="M283.6,246.9 L285.6,246.9 M284.6,246.9 L284.7,249.5"/><path d="M290.3,248.7 L292.3,248.7 M291.3,248.7 L291.1,251.3"/><path d="M298.2,248.9 L300.2,248.9 M299.2,248.9 L298.6,251.5"/><path d="M303.5,248.7 L305.5,248.7 M304.5,248.7 L305.0,251.3"/><path d="M311.3,248.1 L313.3,248.1 M312.3,248.1 L312.4,250.7"/><path d="M318.7,247.8 L320.7,247.8 M319.7,247.8 L319.4,250.4"/><path d="M326.0,248.5 L328.0,248.5 M327.0,248.5 L326.8,251.1"/><path d="M333.2,249.0 L335.2,249.0 M334.2,249.0 L333.7,251.6"/><path d="M341.0,248.9 L343.0,248.9 M342.0,248.9 L341.8,251.5"/><path d="M347.2,249.1 L349.2,249.1 M348.2,249.1 L347.9,251.7"/><path d="M278.6,254.8 L280.6,254.8 M279.6,254.8 L279.8,257.4"/><path d="M285.5,254.5 L287.5,254.5 M286.5,254.5 L286.3,257.1"/><path d="M294.9,254.8 L296.9,254.8 M295.9,254.8 L296.3,257.4"/><path d="M300.1,254.5 L302.1,254.5 M301.1,254.5 L301.3,257.1"/><path d="M309.5,254.9 L311.5,254.9 M310.5,254.9 L310.1,257.5"/><path d="M314.4,255.1 L316.4,255.1 M315.4,255.1 L315.0,257.7"/><path d="M323.6,256.0 L325.6,256.0 M324.6,256.0 L324.2,258.6"/><path d="M329.2,255.9 L331.2,255.9 M330.2,255.9 L330.4,258.5"/><path d="M338.0,254.5 L340.0,254.5 M339.0,254.5 L338.6,257.1"/><path d="M343.7,255.9 L345.7,255.9 M344.7,255.9 L344.4,258.5"/><path d="M351.0,254.8 L353.0,254.8 M352.0,254.8 L351.9,257.4"/><path d="M282.2,260.3 L284.2,260.3 M283.2,260.3 L283.7,262.9"/><path d="M291.5,263.3 L293.5,263.3 M292.5,263.3 L292.5,265.9"/><path d="M299.0,263.1 L301.0,263.1 M300.0,263.1 L299.6,265.7"/><path d="M305.5,262.8 L307.5,262.8 M306.5,262.8 L306.7,265.4"/><path d="M312.1,261.2 L314.1,261.2 M313.1,261.2 L312.9,263.8"/><path d="M318.4,260.5 L320.4,260.5 M319.4,260.5 L319.5,263.1"/><path d="M325.8,262.7 L327.8,262.7 M326.8,262.7 L326.2,265.3"/><path d="M334.8,262.4 L336.8,262.4 M335.8,262.4 L336.3,265.0"/><path d="M342.0,263.0 L344.0,263.0 M343.0,263.0 L343.1,265.6"/><path d="M346.5,262.5 L348.5,262.5 M347.5,262.5 L347.1,265.1"/><path d="M286.8,268.3 L288.8,268.3 M287.8,268.3 L288.3,270.9"/><path d="M294.2,268.1 L296.2,268.1 M295.2,268.1 L294.9,270.7"/><path d="M302.2,268.5 L304.2,268.5 M303.2,268.5 L303.5,271.1"/><path d="M307.9,267.7 L309.9,267.7 M308.9,267.7 L308.9,270.3"/><path d="M316.5,267.6 L318.5,267.6 M317.5,267.6 L317.8,270.2"/><path d="M324.0,269.5 L326.0,269.5 M325.0,269.5 L325.4,272.1"/><path d="M328.4,269.0 L330.4,269.0 M329.4,269.0 L329.9,271.6"/><path d="M335.7,267.9 L337.7,267.9 M336.7,267.9 L336.5,270.5"/><path d="M344.4,268.4 L346.4,268.4 M345.4,268.4 L345.3,271.0"/><path d="M282.1,274.1 L284.1,274.1 M283.1,274.1 L283.6,276.7"/><path d="M291.5,274.2 L293.5,274.2 M292.5,274.2 L292.5,276.8"/><path d="M297.0,274.8 L299.0,274.8 M298.0,274.8 L297.9,277.4"/><path d="M305.2,275.7 L307.2,275.7 M306.2,275.7 L306.1,278.3"/><path d="M311.1,274.9 L313.1,274.9 M312.1,274.9 L311.6,277.5"/><path d="M319.4,276.0 L321.4,276.0 M320.4,276.0 L320.2,278.6"/><path d="M325.1,274.4 L327.1,274.4 M326.1,274.4 L326.0,277.0"/><path d="M333.9,276.2 L335.9,276.2 M334.9,276.2 L334.8,278.8"/><path d="M341.7,275.8 L343.7,275.8 M342.7,275.8 L342.6,278.4"/><path d="M293.1,282.3 L295.1,282.3 M294.1,282.3 L294.4,284.9"/><path d="M299.8,282.0 L301.8,282.0 M300.8,282.0 L300.7,284.6"/><path d="M309.4,283.5 L311.4,283.5 M310.4,283.5 L310.3,286.1"/><path d="M316.7,283.1 L318.7,283.1 M317.7,283.1 L317.4,285.7"/><path d="M322.6,281.1 L324.6,281.1 M323.6,281.1 L324.0,283.7"/><path d="M330.4,283.4 L332.4,283.4 M331.4,283.4 L331.7,286.0"/><path d="M337.6,282.9 L339.6,282.9 M338.6,282.9 L338.7,285.5"/><path d="M303.7,290.0 L305.7,290.0 M304.7,290.0 L304.9,292.6"/><path d="M313.0,290.4 L315.0,290.4 M314.0,290.4 L314.1,293.0"/><path d="M320.1,287.6 L322.1,287.6 M321.1,287.6 L321.4,290.2"/><path d="M326.4,289.6 L328.4,289.6 M327.4,289.6 L327.0,292.2"/></g><polygon points="331,162 415,162 415,272 331,271" fill="#fff" stroke="#222" stroke-width="1.5" stroke-linejoin="round" /><path d="M331,189 C350,192 370,197 386,202 C398,199 408,196 415,195 L415,272.5 L331,271 Z" fill="#aaaaaa" stroke="#333" stroke-width="1.2"/><polyline points="332,247 352,243 368,240 395,237" fill="none" stroke="#555" stroke-width="1.0" stroke-linejoin="round" stroke-linecap="round" /><polyline points="332,249 360,247" fill="none" stroke="#555" stroke-width="0.8" stroke-linejoin="round" stroke-linecap="round" /><polyline points="356,210 385,208.5 412,208" fill="none" stroke="#5a5a5a" stroke-width="1.0" stroke-linejoin="round" stroke-linecap="round" /><polygon points="328,155 415,155 415,162 331,162" fill="#fff" stroke="#222" stroke-width="1.3" stroke-linejoin="round" /><polygon points="348,166 373,165 374,185 348,186" fill="#fff" stroke="#222" stroke-width="1.3" stroke-linejoin="round" /><polygon points="380,165 407,164 408,185 379,186" fill="#fff" stroke="#222" stroke-width="1.3" stroke-linejoin="round" /><line x1="410" y1="163" x2="410" y2="187" stroke="#111" stroke-width="1.0" stroke-linecap="round"/><path d="M366,249 C372,244 390,243 397,248 C398,256 395,264 391,269 L389,283 L385,283 L386,271 L388,268 C389,262 390,257 389,254 L377,254 C372,258 371,264 374,269 L377,271 L372,273 L369,284 L366,283 C364,276 364,266 365,260 Z" fill="#fff" stroke="#1a1a1a" stroke-width="1.2" stroke-linejoin="round"/><ellipse cx="383.3" cy="253.2" rx="5.3" ry="8.1" fill="#fff" stroke="#1a1a1a" stroke-width="1.2"/><rect x="375" y="268.5" width="5.8" height="7.2" fill="#222"/><circle cx="389" cy="268" r="1.8" fill="#fff" stroke="#222" stroke-width="0.8"/><polygon points="305,159 328,159 328,180 305,180" fill="#fff" stroke="#222" stroke-width="1.2" stroke-linejoin="round" /><polygon points="309.5,161.5 323.5,161.5 323.5,169.5 309.5,169.5" fill="#de5550" stroke="#552" stroke-width="0.8" stroke-linejoin="round" /><circle cx="312" cy="174" r="2" fill="#333"/><path d="M254.9,161.9 C256.8,161.0 260.2,159.8 263.0,159.4 C265.8,159.0 269.8,159.0 271.8,159.4 C273.7,159.8 274.6,160.3 274.9,161.9 C275.1,163.5 272.9,168.0 273.2,168.8 C273.6,169.5 274.7,166.5 276.8,166.2 C278.8,166.0 282.8,166.2 285.5,167.5 C288.2,168.8 291.1,171.2 293.0,173.8 C294.9,176.2 296.1,179.6 296.8,182.5 C297.4,185.4 297.6,188.3 296.8,191.2 C295.9,194.2 294.2,197.5 291.8,200.0 C289.2,202.5 284.9,204.9 281.8,206.2 C278.6,207.6 276.1,208.3 273.0,208.1 C269.9,207.9 265.7,206.3 263.0,205.0 C260.3,203.7 258.2,202.1 256.8,200.0 C255.3,197.9 254.0,194.7 254.2,192.5 C254.5,190.3 257.8,188.1 258.0,186.9 C258.2,185.8 256.5,185.1 255.5,185.6 C254.5,186.1 253.2,189.7 251.8,190.0 C250.3,190.3 248.0,189.0 246.8,187.5 C245.5,186.0 244.2,183.8 244.2,181.2 C244.2,178.8 245.5,175.2 246.8,172.5 C248.0,169.8 250.4,166.8 251.8,165.0 C253.1,163.2 253.0,162.8 254.9,161.9 Z" fill="#fff" stroke="#1a1a1a" stroke-width="1.5"/><g fill="#555"><circle cx="268.3" cy="175.3" r="0.83"/><circle cx="269.9" cy="172.0" r="0.78"/><circle cx="258.7" cy="173.2" r="0.75"/><circle cx="287.4" cy="174.3" r="0.68"/><circle cx="279.8" cy="203.2" r="0.80"/><circle cx="267.0" cy="175.0" r="0.64"/><circle cx="267.7" cy="198.6" r="0.66"/><circle cx="278.1" cy="192.4" r="0.73"/><circle cx="276.8" cy="172.2" r="0.62"/><circle cx="263.8" cy="193.8" r="0.75"/><circle cx="267.9" cy="190.5" r="0.76"/><circle cx="267.4" cy="197.8" r="0.84"/><circle cx="265.3" cy="190.1" r="0.78"/><circle cx="289.3" cy="195.5" r="0.70"/><circle cx="271.9" cy="196.5" r="0.65"/><circle cx="274.6" cy="171.4" r="0.83"/><circle cx="285.1" cy="190.1" r="0.91"/><circle cx="267.9" cy="194.3" r="0.81"/><circle cx="278.0" cy="186.0" r="0.89"/><circle cx="291.9" cy="186.6" r="0.83"/><circle cx="287.2" cy="180.0" r="0.74"/><circle cx="273.5" cy="175.9" r="0.64"/><circle cx="270.9" cy="200.5" r="0.63"/><circle cx="273.1" cy="189.2" r="0.91"/><circle cx="287.1" cy="200.2" r="0.70"/><circle cx="271.8" cy="182.6" r="0.91"/><circle cx="262.7" cy="178.1" r="0.68"/><circle cx="274.4" cy="190.6" r="0.69"/><circle cx="270.0" cy="189.8" r="0.93"/><circle cx="282.2" cy="188.0" r="0.82"/><circle cx="281.7" cy="171.9" r="0.91"/><circle cx="285.6" cy="200.6" r="0.88"/><circle cx="270.9" cy="184.0" r="0.64"/><circle cx="280.1" cy="172.2" r="0.62"/><circle cx="263.9" cy="175.7" r="0.72"/><circle cx="258.0" cy="170.0" r="0.65"/><circle cx="279.3" cy="175.2" r="0.69"/><circle cx="269.2" cy="182.7" r="0.64"/><circle cx="273.7" cy="186.9" r="0.63"/><circle cx="266.1" cy="199.0" r="0.66"/><circle cx="276.1" cy="175.1" r="0.79"/><circle cx="282.5" cy="179.1" r="0.73"/><circle cx="262.3" cy="197.0" r="0.79"/><circle cx="285.6" cy="181.5" r="0.68"/><circle cx="288.4" cy="198.2" r="0.89"/><circle cx="284.1" cy="177.9" r="0.78"/><circle cx="269.5" cy="171.0" r="0.61"/><circle cx="266.6" cy="179.1" r="0.84"/><circle cx="292.3" cy="185.7" r="0.93"/><circle cx="269.9" cy="177.7" r="0.68"/><circle cx="263.5" cy="177.2" r="0.82"/><circle cx="274.2" cy="192.9" r="0.88"/><circle cx="259.2" cy="193.1" r="0.92"/><circle cx="285.7" cy="196.3" r="0.77"/><circle cx="262.8" cy="197.6" r="0.72"/><circle cx="271.0" cy="184.0" r="0.93"/><circle cx="283.5" cy="176.0" r="0.64"/><circle cx="286.6" cy="175.1" r="0.89"/><circle cx="269.3" cy="189.2" r="0.65"/><circle cx="280.7" cy="188.4" r="0.93"/><circle cx="272.5" cy="200.5" r="0.89"/><circle cx="264.0" cy="178.8" r="0.70"/><circle cx="265.1" cy="190.5" r="0.69"/><circle cx="271.9" cy="174.6" r="0.92"/><circle cx="269.4" cy="186.0" r="0.80"/><circle cx="290.4" cy="184.7" r="0.92"/><circle cx="275.1" cy="188.6" r="0.78"/><circle cx="263.0" cy="170.1" r="0.88"/><circle cx="262.5" cy="186.6" r="0.85"/><circle cx="277.1" cy="181.4" r="0.78"/></g><g fill="#777"><circle cx="250.5" cy="173.2" r="0.69"/><circle cx="254.6" cy="177.4" r="0.78"/><circle cx="262.7" cy="172.1" r="0.78"/><circle cx="264.6" cy="171.0" r="0.79"/><circle cx="268.2" cy="164.7" r="0.64"/><circle cx="269.5" cy="165.1" r="0.85"/><circle cx="263.8" cy="164.9" r="0.91"/><circle cx="268.0" cy="165.2" r="0.75"/><circle cx="260.4" cy="168.8" r="0.67"/><circle cx="255.6" cy="176.4" r="0.61"/><circle cx="261.3" cy="170.8" r="0.61"/><circle cx="256.0" cy="174.5" r="0.78"/><circle cx="249.0" cy="177.6" r="0.69"/><circle cx="251.1" cy="170.4" r="0.92"/><circle cx="267.7" cy="167.2" r="0.65"/></g><line x1="269.5" y1="92" x2="269.5" y2="175" stroke="#111" stroke-width="1.5" stroke-linecap="round"/><circle cx="269.5" cy="179" r="4.2" fill="#fff" stroke="#111" stroke-width="1.4"/><circle cx="285.5" cy="228.3" r="17" fill="#fff" stroke="#222" stroke-width="1.3"/><circle cx="277.9" cy="223.9" r="3.2" fill="#d8b13a" stroke="#554" stroke-width="0.7"/><circle cx="288.5" cy="230.5" r="6.4" fill="none" stroke="#222" stroke-width="1.0"/><circle cx="288.5" cy="230.5" r="2.6" fill="none" stroke="#222" stroke-width="0.9"/><rect x="284.5" y="215" width="4.5" height="7" fill="#fff" stroke="#222" stroke-width="0.8"/><path d="M247.5,271 C248,268 250,267.5 252,267 L269,265.5 C272,265.5 274,267 274,270 L273.6,293.5 C273.5,295.5 272,296.7 270,296.7 L251,296.2 C248.5,296 246.8,294 246.8,292 Z" fill="#fff" stroke="#222" stroke-width="1.4"/><polyline points="267.5,267 268,295.5" fill="none" stroke="#111" stroke-width="0.9" stroke-linejoin="round" stroke-linecap="round" /><path d="M270.5,270 L270.7,294" stroke="#333" stroke-width="1.2" stroke-dasharray="1.5 1.5"/><polygon points="424,165 470,165 470,200 489,200 489,167 522,167 522,278 424,278" fill="#d3e8c5" stroke="none" stroke-width="0" stroke-linejoin="round" /><clipPath id="tl"><polygon points="424,165 470,165 470,200 489,200 489,167 522,167 522,278 424,278"/></clipPath><g clip-path="url(#tl)" stroke="#42603d" stroke-width="1.0"><line x1="424.0" y1="160" x2="424.8" y2="280"/><line x1="430.6" y1="160" x2="431.4" y2="280"/><line x1="437.1" y1="160" x2="437.9" y2="280"/><line x1="443.7" y1="160" x2="444.5" y2="280"/><line x1="450.2" y1="160" x2="451.0" y2="280"/><line x1="456.8" y1="160" x2="457.6" y2="280"/><line x1="463.3" y1="160" x2="464.1" y2="280"/><line x1="469.9" y1="160" x2="470.7" y2="280"/><line x1="476.4" y1="160" x2="477.2" y2="280"/><line x1="483.0" y1="160" x2="483.8" y2="280"/><line x1="489.5" y1="160" x2="490.3" y2="280"/><line x1="496.1" y1="160" x2="496.9" y2="280"/><line x1="502.6" y1="160" x2="503.4" y2="280"/><line x1="509.2" y1="160" x2="510.0" y2="280"/><line x1="515.7" y1="160" x2="516.5" y2="280"/><line x1="522.3" y1="160" x2="523.1" y2="280"/><line x1="420" y1="166.0" x2="525" y2="166.5"/><line x1="420" y1="172.4" x2="525" y2="172.9"/><line x1="420" y1="178.8" x2="525" y2="179.3"/><line x1="420" y1="185.2" x2="525" y2="185.7"/><line x1="420" y1="191.6" x2="525" y2="192.1"/><line x1="420" y1="198.0" x2="525" y2="198.5"/><line x1="420" y1="204.4" x2="525" y2="204.9"/><line x1="420" y1="210.8" x2="525" y2="211.3"/><line x1="420" y1="217.2" x2="525" y2="217.7"/><line x1="420" y1="223.6" x2="525" y2="224.1"/><line x1="420" y1="230.0" x2="525" y2="230.5"/><line x1="420" y1="236.4" x2="525" y2="236.9"/><line x1="420" y1="242.8" x2="525" y2="243.3"/><line x1="420" y1="249.2" x2="525" y2="249.7"/><line x1="420" y1="255.6" x2="525" y2="256.1"/><line x1="420" y1="262.0" x2="525" y2="262.5"/><line x1="420" y1="268.4" x2="525" y2="268.9"/><line x1="420" y1="274.8" x2="525" y2="275.3"/></g><polyline points="424,165 470.6,165 481.2,141.8" fill="none" stroke="#111" stroke-width="1.0" stroke-linejoin="round" stroke-linecap="round" /><line x1="470.6" y1="165" x2="470.6" y2="199.7" stroke="#111" stroke-width="1.1" stroke-linecap="round"/><polyline points="423,199.7 482,199.7" fill="none" stroke="#111" stroke-width="1.6" stroke-linejoin="round" stroke-linecap="round" /><polyline points="423,210.5 469,211" fill="none" stroke="#111" stroke-width="1.8" stroke-linejoin="round" stroke-linecap="round" /><polygon points="466,212 480,199.7 484,201 470,214" fill="#fff" stroke="#222" stroke-width="1.0" stroke-linejoin="round" /><polygon points="466,206 470,203 468,208" fill="#222" stroke="#222" stroke-width="0.8" stroke-linejoin="round" /><polyline points="522,167 547,143" fill="none" stroke="#111" stroke-width="1.0" stroke-linejoin="round" stroke-linecap="round" /><line x1="522" y1="167" x2="522" y2="278" stroke="#111" stroke-width="0.9" stroke-linecap="round"/><ellipse cx="457.8" cy="157.6" rx="6.6" ry="5.2" fill="#fff" stroke="#222" stroke-width="1.2"/><line x1="458" y1="141" x2="458" y2="152" stroke="#111" stroke-width="1.3" stroke-linecap="round"/><line x1="445" y1="152" x2="451" y2="154" stroke="#111" stroke-width="1.8" stroke-linecap="round"/><line x1="464.5" y1="155" x2="467.5" y2="157" stroke="#111" stroke-width="1.5" stroke-linecap="round"/><circle cx="451.8" cy="171.8" r="2.2" fill="none" stroke="#444" stroke-width="0.9"/><rect x="489" y="160" width="28" height="8" rx="1" fill="#fff" stroke="#222" stroke-width="1.1"/><path d="M490,168 L516,168 L516,190 C516,195 512,196 506,196 L496,196 C491,196 490,192 490,188 Z" fill="#fff" stroke="#222" stroke-width="1.2"/><polygon points="485,251 532,251 532,280 485,280" fill="#d8b894" stroke="#333" stroke-width="1.0" stroke-linejoin="round" /><ellipse cx="505.9" cy="264.7" rx="13.3" ry="11.6" fill="#fff" stroke="#222" stroke-width="1.8"/><path d="M503.5,265 L513.5,277.5" stroke="#222" stroke-width="3.4" stroke-linecap="round"/><path d="M503.5,265 L513.5,277.5" stroke="#fff" stroke-width="1.6" stroke-linecap="round"/><rect x="496" y="279.5" width="32" height="3" fill="#444"/><polygon points="468.2,248.8 479,248.4 479,282 474,284 468.2,280" fill="#fff" stroke="#222" stroke-width="1.1" stroke-linejoin="round" /><polygon points="479,248.4 485,248.4 485,284 479,284" fill="#fff" stroke="#222" stroke-width="1.1" stroke-linejoin="round" /><polyline points="416,138 416,283" fill="none" stroke="#111" stroke-width="2.2" stroke-linejoin="round" stroke-linecap="round" /><polyline points="421.5,139 421.5,281" fill="none" stroke="#111" stroke-width="2.0" stroke-linejoin="round" stroke-linecap="round" /><polyline points="421.5,139 484,139 484,200" fill="none" stroke="#111" stroke-width="2.2" stroke-linejoin="round" stroke-linecap="round" /><polyline points="489,200 489,141 547,143.5 547,283" fill="none" stroke="#111" stroke-width="2.2" stroke-linejoin="round" stroke-linecap="round" /><polyline points="416,283 421.5,281" fill="none" stroke="#111" stroke-width="1.6" stroke-linejoin="round" stroke-linecap="round" /><polyline points="421,281 547,283 552,285 623,289" fill="none" stroke="#111" stroke-width="1.5" stroke-linejoin="round" stroke-linecap="round" /><polyline points="416,288 590,290" fill="none" stroke="#111" stroke-width="1.2" stroke-linejoin="round" stroke-linecap="round" /><line x1="552" y1="214" x2="552" y2="285" stroke="#111" stroke-width="2.2" stroke-linecap="round"/><polygon points="588.5,222.6 626,217.7 645,231.8 617.5,283 588.5,283" fill="#aaa396" stroke="none" stroke-width="0" stroke-linejoin="round" /><polygon points="589.2,283 599.8,264.4 600.2,283" fill="#fff" stroke="#555" stroke-width="0.8" stroke-linejoin="round" /><polygon points="602.6,283 614,260.2 614.4,283" fill="#fff" stroke="#555" stroke-width="0.8" stroke-linejoin="round" /><g fill="#666"><circle cx="599.3" cy="275.0" r="0.85"/><circle cx="596.8" cy="272.3" r="0.63"/><circle cx="599.5" cy="276.2" r="0.88"/><circle cx="595.3" cy="281.6" r="0.69"/><circle cx="592.6" cy="278.5" r="0.70"/></g><g fill="#666"><circle cx="611.3" cy="272.8" r="0.67"/><circle cx="608.2" cy="281.5" r="0.64"/><circle cx="612.3" cy="270.1" r="0.77"/><circle cx="612.4" cy="269.2" r="0.78"/><circle cx="610.7" cy="282.6" r="0.72"/><circle cx="612.4" cy="276.3" r="0.82"/></g><polyline points="582,283 588.5,268" fill="none" stroke="#444" stroke-width="0.9" stroke-linejoin="round" stroke-linecap="round" /><polyline points="626,217.7 645,231.8 617.5,283" fill="none" stroke="#555" stroke-width="0.9" stroke-linejoin="round" stroke-linecap="round" /><polyline points="652,228 623,286" fill="none" stroke="#333" stroke-width="0.9" stroke-linejoin="round" stroke-linecap="round" /><line x1="588.5" y1="222.6" x2="588.5" y2="283" stroke="#444" stroke-width="1.1" stroke-linecap="round"/><line x1="599.8" y1="221" x2="600.2" y2="283" stroke="#444" stroke-width="1.0" stroke-linecap="round"/><line x1="614" y1="218.4" x2="615" y2="283" stroke="#3a3a3a" stroke-width="1.3" stroke-linecap="round"/><line x1="588.5" y1="245" x2="614" y2="245" stroke="#444" stroke-width="1.0" stroke-linecap="round"/><g stroke="#222" stroke-width="1.1" fill="none"><path d="M556.0,221 C553.0,226 553.0,236 555.0,240 Q558.0,246 560.5,238"/><path d="M560.8,221 C557.8,226 557.8,236 559.8,240 Q562.8,246 565.3,238"/><path d="M565.6,221 C562.6,226 562.6,236 564.6,240 Q567.6,246 570.1,238"/><path d="M570.4,221 C567.4,226 567.4,236 569.4,240 Q572.4,246 574.9,238"/><path d="M575.2,221 C572.2,226 572.2,236 574.2,240 Q577.2,246 579.7,238"/><path d="M580.0,221 C577.0,226 577.0,236 579.0,240 Q582.0,246 584.5,238"/><path d="M584.8,221 C581.8,226 581.8,236 583.8,240 Q586.8,246 589.3,238"/><path d="M589.6,221 C586.6,226 586.6,236 588.6,240 Q591.6,246 594.1,238"/><path d="M594.4,221 C591.4,226 591.4,236 593.4,240 Q596.4,246 598.9,238"/><path d="M599.2,221 C596.2,226 596.2,236 598.2,240 Q601.2,246 603.7,238"/><path d="M604.0,221 C601.0,226 601.0,236 603.0,240 Q606.0,246 608.5,238"/></g><line x1="553" y1="232.5" x2="609.7" y2="232.5" stroke="#333" stroke-width="1.2" stroke-linecap="round"/><polyline points="552,214 628,214 655,228 623,289" fill="none" stroke="#161616" stroke-width="2.0" stroke-linejoin="round" stroke-linecap="round" /><line x1="567.8" y1="93" x2="567.8" y2="258" stroke="#111" stroke-width="1.5" stroke-linecap="round"/><circle cx="568.5" cy="261.5" r="3.6" fill="#fff" stroke="#111" stroke-width="1.3"/><polygon points="590,290 637,298 611,351 570,328" fill="#fff" stroke="#111" stroke-width="1.5" stroke-linejoin="round" /><line x1="590" y1="293" x2="636" y2="301" stroke="#111" stroke-width="0.8" stroke-linecap="round"/><line x1="641" y1="301" x2="615" y2="352" stroke="#111" stroke-width="0.9" stroke-linecap="round"/><polyline points="570,330 611,354" fill="none" stroke="#111" stroke-width="1.0" stroke-linejoin="round" stroke-linecap="round" /><line x1="612" y1="311" x2="657" y2="210" stroke="#111" stroke-width="1.3" stroke-linecap="round"/><line x1="657" y1="210" x2="681" y2="161" stroke="#111" stroke-width="1.3" stroke-linecap="round"/><circle cx="610.5" cy="314" r="3.8" fill="#fff" stroke="#111" stroke-width="1.3"/><polyline points="319,407 319,430 152,424 187,116 563,129 563,201 641,202 691,232 649,308 638,302 636,298.5 623,290" fill="none" stroke="#161616" stroke-width="2.0" stroke-linejoin="round" stroke-linecap="round" /><polyline points="384,408 384,430 500,436 580,446 623,357 611,353 598,349" fill="none" stroke="#161616" stroke-width="2.0" stroke-linejoin="round" stroke-linecap="round" /><polyline points="416,138 207,131 177,402 319,407" fill="none" stroke="#161616" stroke-width="2.0" stroke-linejoin="round" stroke-linecap="round" /><polyline points="384,408 500,410 571,412 594,357 598,349" fill="none" stroke="#161616" stroke-width="2.0" stroke-linejoin="round" stroke-linecap="round" /><polyline points="322,389 320,407" fill="none" stroke="#111" stroke-width="1.0" stroke-linejoin="round" stroke-linecap="round" /><polyline points="319,407 329,388 385,388 384,408" fill="none" stroke="#111" stroke-width="1.4" stroke-linejoin="round" stroke-linecap="round" /><polyline points="321,413 331,396 383,395" fill="none" stroke="#111" stroke-width="1.0" stroke-linejoin="round" stroke-linecap="round" /><line x1="323" y1="404" x2="383" y2="404" stroke="#111" stroke-width="1.0" stroke-linecap="round"/><line x1="321" y1="415" x2="383" y2="415" stroke="#111" stroke-width="1.0" stroke-linecap="round"/><polygon points="223,349 316,349 317,380 223,380" fill="#fff" stroke="#222" stroke-width="1.4" stroke-linejoin="round" /><line x1="316" y1="349" x2="320" y2="343" stroke="#111" stroke-width="1.1" stroke-linecap="round"/><line x1="317" y1="380" x2="320" y2="375" stroke="#111" stroke-width="1.1" stroke-linecap="round"/><path d="M257,338 C258,333 266,331 272,333 L270,337 C266,336 262,337 259,340 Z" fill="#f0c050" stroke="#6b5220" stroke-width="0.9"/><path d="M267.5,350.6 L267.5,337 C270,333 280,332 287,334 C291,338 293,345 294,350.6 Z" fill="#e3a82e" stroke="#5b4518" stroke-width="0.9"/><polyline points="288,334 293,328" fill="none" stroke="#111" stroke-width="1.0" stroke-linejoin="round" stroke-linecap="round" /><polyline points="294,349 301,346" fill="none" stroke="#111" stroke-width="1.0" stroke-linejoin="round" stroke-linecap="round" /><polygon points="269,356 291,355.8 294.8,372.5 272,374.7" fill="#fff" stroke="#222" stroke-width="1.0" stroke-linejoin="round" /><polyline points="272,374.7 296,373" fill="none" stroke="#111" stroke-width="0.8" stroke-linejoin="round" stroke-linecap="round" /><polygon points="252,353 260,352.8 263.2,355 262,368.6 254,367" fill="#fff" stroke="#222" stroke-width="0.9" stroke-linejoin="round" /><polygon points="246.6,362 252,356 255,366 249,365" fill="#fff" stroke="#222" stroke-width="0.9" stroke-linejoin="round" /><rect x="260" y="368.6" width="10" height="6" fill="#c24a5c" stroke="#5a2530" stroke-width="0.6"/><circle cx="306" cy="371" r="4.5" fill="#fff" stroke="#222" stroke-width="0.9"/><polygon points="222.5,379.5 229,379.5 227.5,384.5 221,384.5" fill="none" stroke="#333" stroke-width="0.8" stroke-linejoin="round" /><polygon points="234.5,381 241,381 239.5,386 233,386" fill="none" stroke="#333" stroke-width="0.8" stroke-linejoin="round" /><polygon points="211.5,385.5 218,385.5 216.5,390.5 210,390.5" fill="none" stroke="#333" stroke-width="0.8" stroke-linejoin="round" /><polygon points="224.5,388 231,388 229.5,393 223,393" fill="none" stroke="#333" stroke-width="0.8" stroke-linejoin="round" /><polygon points="236.5,390.5 243,390.5 241.5,395.5 235,395.5" fill="none" stroke="#333" stroke-width="0.8" stroke-linejoin="round" /><polygon points="208.5,393.5 215,393.5 213.5,398.5 207,398.5" fill="none" stroke="#333" stroke-width="0.8" stroke-linejoin="round" /><polygon points="220.5,396 227,396 225.5,401 219,401" fill="none" stroke="#333" stroke-width="0.8" stroke-linejoin="round" /><polygon points="232.5,397.5 239,397.5 237.5,402.5 231,402.5" fill="none" stroke="#333" stroke-width="0.8" stroke-linejoin="round" /><polygon points="201.5,399 208,399 206.5,404 200,404" fill="none" stroke="#333" stroke-width="0.8" stroke-linejoin="round" /><polygon points="259,386 297,386 289,404 251,404" fill="none" stroke="#333" stroke-width="0.9" stroke-linejoin="round" /><polygon points="276,392.7 289,392.7 286,400 273,400" fill="none" stroke="#333" stroke-width="0.8" stroke-linejoin="round" /><line x1="269.5" y1="385" x2="269.5" y2="468" stroke="#111" stroke-width="1.5" stroke-linecap="round"/><circle cx="269.5" cy="381" r="4" fill="#fff" stroke="#111" stroke-width="1.3"/><path d="M329.8,352 C326,360 334,369 344,368" fill="none" stroke="#333" stroke-width="2.2"/><path d="M329.8,352 C326,360 334,369 344,368" fill="none" stroke="#fff" stroke-width="0.8"/><g stroke="#3d6a2c" stroke-width="5.6" stroke-linecap="round"><line x1="336.4" y1="344.4" x2="321.8" y2="339.0"/><line x1="338.2" y1="342.5" x2="326.3" y2="334.1"/><line x1="340.8" y1="341.3" x2="332.8" y2="331.1"/><line x1="345.1" y1="341.1" x2="343.7" y2="330.6"/><line x1="348.1" y1="341.3" x2="351.2" y2="331.1"/><line x1="351.4" y1="340.3" x2="359.6" y2="328.6"/><line x1="353.6" y1="341.3" x2="365.2" y2="331.1"/><line x1="355.6" y1="342.9" x2="370.1" y2="335.1"/><line x1="357.2" y1="345.6" x2="374.2" y2="342.0"/><line x1="357.4" y1="348.4" x2="374.6" y2="349.0"/><line x1="362.6" y1="360.2" x2="371.0" y2="359.1"/><line x1="362.6" y1="363.0" x2="371.0" y2="366.0"/><line x1="360.8" y1="365.4" x2="366.5" y2="372.0"/><line x1="358.0" y1="366.8" x2="359.5" y2="375.5"/><line x1="356.0" y1="366.9" x2="354.5" y2="376.0"/><line x1="354.2" y1="365.0" x2="350.0" y2="371.0"/><line x1="352.0" y1="363.0" x2="344.5" y2="366.0"/><line x1="351.9" y1="361.0" x2="344.1" y2="361.0"/><line x1="342.9" y1="350.6" x2="338.3" y2="354.5"/><line x1="341.3" y1="347.4" x2="334.2" y2="346.5"/></g><polygon points="334,341 346,336 360,334 370,340 370,352 360,356 348,356 338,350" fill="#79ad58" stroke="#3d6a2c" stroke-width="2.2" stroke-linejoin="round" /><polygon points="347,358 360,352 368,360 366,370 356,372 348,366" fill="#79ad58" stroke="#3d6a2c" stroke-width="2.2" stroke-linejoin="round" /><g stroke="#79ad58" stroke-width="3.8" stroke-linecap="round"><line x1="336.4" y1="344.4" x2="321.8" y2="339.0"/><line x1="338.2" y1="342.5" x2="326.3" y2="334.1"/><line x1="340.8" y1="341.3" x2="332.8" y2="331.1"/><line x1="345.1" y1="341.1" x2="343.7" y2="330.6"/><line x1="348.1" y1="341.3" x2="351.2" y2="331.1"/><line x1="351.4" y1="340.3" x2="359.6" y2="328.6"/><line x1="353.6" y1="341.3" x2="365.2" y2="331.1"/><line x1="355.6" y1="342.9" x2="370.1" y2="335.1"/><line x1="357.2" y1="345.6" x2="374.2" y2="342.0"/><line x1="357.4" y1="348.4" x2="374.6" y2="349.0"/><line x1="362.6" y1="360.2" x2="371.0" y2="359.1"/><line x1="362.6" y1="363.0" x2="371.0" y2="366.0"/><line x1="360.8" y1="365.4" x2="366.5" y2="372.0"/><line x1="358.0" y1="366.8" x2="359.5" y2="375.5"/><line x1="356.0" y1="366.9" x2="354.5" y2="376.0"/><line x1="354.2" y1="365.0" x2="350.0" y2="371.0"/><line x1="352.0" y1="363.0" x2="344.5" y2="366.0"/><line x1="351.9" y1="361.0" x2="344.1" y2="361.0"/><line x1="342.9" y1="350.6" x2="338.3" y2="354.5"/><line x1="341.3" y1="347.4" x2="334.2" y2="346.5"/></g><polygon points="334,341 346,336 360,334 370,340 370,352 360,356 348,356 338,350" fill="#79ad58" stroke="none" stroke-width="0" stroke-linejoin="round" /><polygon points="347,358 360,352 368,360 366,370 356,372 348,366" fill="#79ad58" stroke="none" stroke-width="0" stroke-linejoin="round" /><polyline points="320,339 334,342 346,348 357,361 372,347" fill="none" stroke="#335f25" stroke-width="0.9" stroke-linejoin="round" stroke-linecap="round" /><polyline points="346,348 362,333" fill="none" stroke="#335f25" stroke-width="0.8" stroke-linejoin="round" stroke-linecap="round" /><polyline points="357,361 356,376" fill="none" stroke="#335f25" stroke-width="0.8" stroke-linejoin="round" stroke-linecap="round" /><polyline points="346,348 343,331" fill="none" stroke="#335f25" stroke-width="0.8" stroke-linejoin="round" stroke-linecap="round" /><polygon points="398.7,362.3 475.2,362.3 475.2,386.5 398.7,386.3" fill="#fff" stroke="#222" stroke-width="1.4" stroke-linejoin="round" /><polyline points="401,362 403,353.3 472,353.3 474,362" fill="none" stroke="#111" stroke-width="1.1" stroke-linejoin="round" stroke-linecap="round" /><line x1="403" y1="358" x2="472" y2="358" stroke="#444" stroke-width="0.9" stroke-linecap="round"/><line x1="437" y1="353.3" x2="437" y2="362" stroke="#444" stroke-width="0.8" stroke-linecap="round"/><circle cx="458.2" cy="374" r="9.3" fill="#d9a436" stroke="#4a3a1a" stroke-width="1.0"/><path d="M455,371 L462,370 L463,377 L456,378 Z" fill="#fff" stroke="#333" stroke-width="0.8"/><circle cx="459.5" cy="377" r="2" fill="#ccd" stroke="#333" stroke-width="0.6"/><circle cx="452" cy="371" r="1.3" fill="none" stroke="#333" stroke-width="0.6"/><circle cx="412" cy="373.5" r="4.3" fill="#9aa39a" stroke="#222" stroke-width="1.3"/><circle cx="412" cy="373.5" r="2" fill="#c8cfc8"/><rect x="419.6" y="367.0" width="2.6" height="14" rx="1" fill="#fff" stroke="#222" stroke-width="0.9"/><rect x="422.8" y="367.3" width="2.6" height="14" rx="1" fill="#fff" stroke="#222" stroke-width="0.9"/><rect x="426.0" y="367.6" width="2.6" height="14" rx="1" fill="#fff" stroke="#222" stroke-width="0.9"/><rect x="429.2" y="367.9" width="2.6" height="14" rx="1" fill="#fff" stroke="#222" stroke-width="0.9"/><polygon points="434.9,366.5 444,365.5 445,375.7 436,376.7" fill="#fff" stroke="#222" stroke-width="0.9" stroke-linejoin="round" /><line x1="419" y1="385" x2="419" y2="468" stroke="#111" stroke-width="1.5" stroke-linecap="round"/><circle cx="418.9" cy="381.5" r="3.8" fill="#fff" stroke="#111" stroke-width="1.3"/><polyline points="499,402.5 509.5,388.7 518.7,402.5" fill="none" stroke="#111" stroke-width="1.4" stroke-linejoin="round" stroke-linecap="round" /><polyline points="480.7,355.9 496,363" fill="none" stroke="#111" stroke-width="1.4" stroke-linejoin="round" stroke-linecap="round" /><polyline points="483.6,373.7 502.6,350.2" fill="none" stroke="#111" stroke-width="1.3" stroke-linejoin="round" stroke-linecap="round" /><path d="M498,353 C500,349 503,350 505,353 L516,380 C517,385 514,389 510,388 L506,385 L496,360 Z" fill="#fff" stroke="#222" stroke-width="1.1"/><path d="M510,364 C512,360 516,361 518,365 L526,381 C527,386 523,390 519,388 L515,384 L509,368 Z" fill="#fff" stroke="#222" stroke-width="1.1"/><polyline points="500,356 511,382" fill="none" stroke="#111" stroke-width="0.8" stroke-linejoin="round" stroke-linecap="round" /><ellipse cx="494.5" cy="383" rx="3.3" ry="5.8" transform="rotate(-20 494.5 383)" fill="#fff" stroke="#222" stroke-width="1.0"/><circle cx="269.4" cy="62.5" r="30" fill="#fff" stroke="#111" stroke-width="1.8"/><circle cx="569" cy="63.3" r="30" fill="#fff" stroke="#111" stroke-width="1.8"/><circle cx="693" cy="132.7" r="30" fill="#fff" stroke="#111" stroke-width="1.8"/><circle cx="269.4" cy="498.6" r="30" fill="#fff" stroke="#111" stroke-width="1.8"/><circle cx="421.5" cy="498" r="29.5" fill="#fff" stroke="#111" stroke-width="1.8"/><path d="M249,62.3 L256.1,62.3 L256.1,83.2 L249,83.2 Z" fill="#fff" stroke="#444" stroke-width="0.8"/><path d="M282,62.3 L286.7,62.3 L286.7,81 L282,81 Z" fill="#fff" stroke="#444" stroke-width="0.8"/><path d="M255.5,51.5 L283.3,51.5 L283.3,64 L255.5,64 Z" fill="#fff" stroke="#444" stroke-width="0.8"/><ellipse cx="271.4" cy="40.4" rx="4.1" ry="5.2" fill="#111"/><path d="M269.3,44.5 L273.9,44.5 L274.4,48.3 L280.8,50.6 L282.2,56 L281.8,60.5 L279,63.2 L261,63.2 L258.2,59.6 L257.6,53 L260.4,49.9 L268.4,48.2 Z" fill="#111"/><path d="M264.8,57.5 L269,58.5 L273,57 L273.5,64.5 L265.5,65 Z" fill="#fff" stroke="#111" stroke-width="0.5"/><path d="M255,63 L282.7,63 C283.5,70 283.5,78 282.7,84.4 L275.4,86.6 L270.8,83.2 L265.2,86.6 L256.1,86.6 C254.5,79 254.5,70 255,63 Z" fill="#111"/><g fill="#fff"><circle cx="257.0" cy="66.0" r="1.5"/><circle cx="261.6" cy="66.0" r="1.5"/><circle cx="266.2" cy="66.0" r="1.5"/><circle cx="270.8" cy="66.0" r="1.5"/><circle cx="275.4" cy="66.0" r="1.5"/><circle cx="280.0" cy="66.0" r="1.5"/><circle cx="259.3" cy="70.3" r="1.5"/><circle cx="263.9" cy="70.3" r="1.5"/><circle cx="268.5" cy="70.3" r="1.5"/><circle cx="273.1" cy="70.3" r="1.5"/><circle cx="277.7" cy="70.3" r="1.5"/><circle cx="257.0" cy="74.6" r="1.5"/><circle cx="261.6" cy="74.6" r="1.5"/><circle cx="266.2" cy="74.6" r="1.5"/><circle cx="270.8" cy="74.6" r="1.5"/><circle cx="275.4" cy="74.6" r="1.5"/><circle cx="280.0" cy="74.6" r="1.5"/><circle cx="259.3" cy="78.9" r="1.5"/><circle cx="263.9" cy="78.9" r="1.5"/><circle cx="268.5" cy="78.9" r="1.5"/><circle cx="273.1" cy="78.9" r="1.5"/><circle cx="277.7" cy="78.9" r="1.5"/><circle cx="257.0" cy="83.2" r="1.5"/><circle cx="261.6" cy="83.2" r="1.5"/><circle cx="266.2" cy="83.2" r="1.5"/><circle cx="270.8" cy="83.2" r="1.5"/><circle cx="275.4" cy="83.2" r="1.5"/><circle cx="280.0" cy="83.2" r="1.5"/></g><circle cx="571" cy="50" r="4.1" fill="#fff" stroke="#222" stroke-width="1"/><polyline points="556.5,52 563,58 568,56 574,56 580,58 584.5,55.5" fill="none" stroke="#111" stroke-width="1" stroke-linejoin="round" stroke-linecap="round" /><polyline points="564,57 564,92" fill="none" stroke="#111" stroke-width="1" stroke-linejoin="round" stroke-linecap="round" /><polyline points="575,58 574,92" fill="none" stroke="#111" stroke-width="1" stroke-linejoin="round" stroke-linecap="round" /><path d="M548.5,53 L559.5,54.5 L561,66 L562.3,81.4 L549.4,82.6 L548,72 L545.5,73 Z" fill="#111"/><path d="M578,60 L589,59.5 L591.5,74 L589,76 L588,88.4 L577.5,88 L578,72 L576,71 Z" fill="#111"/><path d="M695,111.7 L708,111.7 L707.5,153.7 L695,153.7 Z" fill="#111"/><path d="M681,113.4 L695.6,107.6 L695,159.6 L680,149 Z" fill="#fff" stroke="#222" stroke-width="0.9"/><polyline points="686,124 693,132 686,141" fill="none" stroke="#111" stroke-width="1.0" stroke-linejoin="round" stroke-linecap="round" /><rect x="684" y="129.8" width="3" height="5.8" fill="#111"/><path d="M688,128 L694,124 L694,140 L688,136 Z" fill="#111"/><path d="M698,128 Q700,132.5 698,137 M700.5,126 Q703.5,132.5 700.5,139 M703,124 Q707,132.5 703,141" stroke="#fff" stroke-width="1" fill="none"/><polygon points="261,488.5 282.4,488.5 282.4,503.4 261,503.4" fill="#fff" stroke="#222" stroke-width="1.6" stroke-linejoin="round" /><polygon points="261,503.4 282.4,503.4 285.3,511.9 257,511.9" fill="#fff" stroke="#222" stroke-width="1.0" stroke-linejoin="round" /><ellipse cx="266" cy="496.6" rx="1.9" ry="1.6" fill="#111"/><ellipse cx="271.7" cy="496.6" rx="1.9" ry="1.6" fill="#111"/><ellipse cx="277.3" cy="496.6" rx="1.9" ry="1.6" fill="#111"/><path d="M244.5,504 L254,504 L254,513 L245,513 Z" fill="#fff" stroke="#222" stroke-width="1"/><ellipse cx="249.3" cy="504.5" rx="4.5" ry="1.5" fill="#111"/><path d="M244.5,506 Q242,508 244.5,510" stroke="#222" stroke-width="0.8" fill="none"/><path d="M248,500 Q246,497 248.5,494.5 Q250,492.5 248,491 M251,500 Q249.5,497 251.5,495 Q252.5,493 251,491.5" stroke="#222" stroke-width="0.8" fill="none"/><ellipse cx="286.4" cy="486.4" rx="5" ry="2.3" transform="rotate(35 286.4 486.4)" fill="#111"/><polyline points="290,484 292,486 295.5,496 289.5,504.5" fill="none" stroke="#111" stroke-width="0.9" stroke-linejoin="round" stroke-linecap="round" /><ellipse cx="289.2" cy="505.8" rx="3.6" ry="1.2" fill="#fff" stroke="#222" stroke-width="0.9"/><path d="M411.7,498 C414,495 425,495 427.2,498 L427.2,520 C425,523 414,523 411.7,520 Z" fill="#111"/><path d="M427,503 C435,501 438,513 427,516" stroke="#111" stroke-width="1.3" fill="none"/><path d="M413,499 C417,497 424,497 426,499" stroke="#fff" stroke-width="0.8" fill="none"/><path d="M413.5,507 C418,508.5 423,508.5 427,506 M413,514 C418,515.5 423,515.5 427,513" stroke="#fff" stroke-width="1.4" fill="none"/><path d="M415.4,494 Q412.8,491 415.4,488 Q418,485 415.4,482 Q412.8,479 415.4,476 M422.8,492 Q420.2,489 422.8,486 Q425.4,483 422.8,480 Q420.2,477 422.8,474 Q425,472 423,470.5 M428.6,494 Q426,491 428.6,488 Q431.2,485 428.6,482 Q426,479 428.6,476" stroke="#111" stroke-width="1.9" fill="none" stroke-linecap="round"/><text x="269.1" y="16" text-anchor="middle" style="font-family:&quot;Liberation Sans&quot;,sans-serif;font-size:10.5px" fill="#1e1e1e" textLength="20.4" lengthAdjust="spacingAndGlyphs">coin</text><text x="268.7" y="29" text-anchor="middle" style="font-family:&quot;Liberation Sans&quot;,sans-serif;font-size:10.5px" fill="#1e1e1e" textLength="37.3" lengthAdjust="spacingAndGlyphs">détente</text><text x="567.4" y="27" text-anchor="middle" style="font-family:&quot;Liberation Sans&quot;,sans-serif;font-size:10.5px" fill="#1e1e1e" textLength="38.1" lengthAdjust="spacingAndGlyphs">dressing</text><text x="693.5" y="85" text-anchor="middle" style="font-family:&quot;Liberation Sans&quot;,sans-serif;font-size:10.5px" fill="#1e1e1e" textLength="27.2" lengthAdjust="spacingAndGlyphs">porte</text><text x="693" y="97.5" text-anchor="middle" style="font-family:&quot;Liberation Sans&quot;,sans-serif;font-size:10.5px" fill="#1e1e1e" textLength="51.6" lengthAdjust="spacingAndGlyphs">acoustique</text><text x="267.9" y="540.6" text-anchor="middle" style="font-family:&quot;Liberation Sans&quot;,sans-serif;font-size:10.5px" fill="#1e1e1e" textLength="20.3" lengthAdjust="spacingAndGlyphs">coin</text><text x="268.4" y="554" text-anchor="middle" style="font-family:&quot;Liberation Sans&quot;,sans-serif;font-size:10.5px" fill="#1e1e1e" textLength="31.6" lengthAdjust="spacingAndGlyphs">bureau</text><text x="422" y="542" text-anchor="middle" style="font-family:&quot;Liberation Sans&quot;,sans-serif;font-size:10.5px" fill="#1e1e1e" textLength="42.2" lengthAdjust="spacingAndGlyphs">tisanerie</text><text x="0" y="0" transform="translate(464 470.3) scale(0.626 1)" style="font-family:&quot;Liberation Sans&quot;,sans-serif;font-size:16.5px;letter-spacing:1.2px" fill="#1a1a1a">STUDIO BILL MOLLISON</text></svg></body></html>
